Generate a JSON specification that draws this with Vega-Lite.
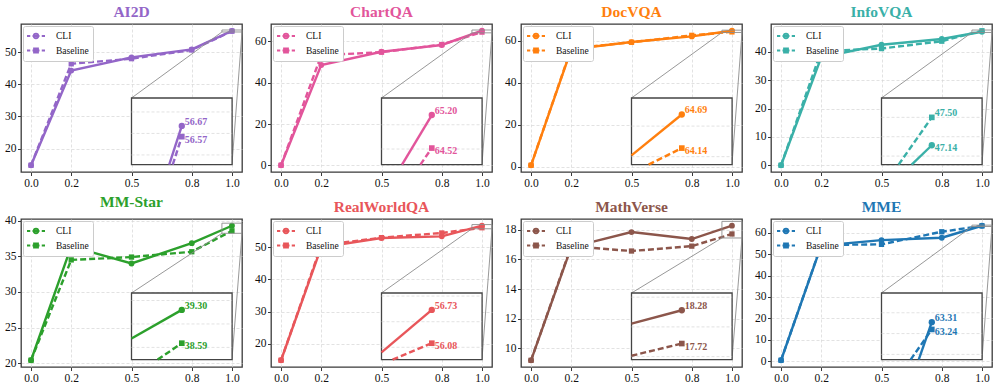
{
"$schema": "https://vega.github.io/schema/vega-lite/v6.json",
"background": "white",
"padding": {"left": 3, "top": 3, "right": 2, "bottom": 2},
"columns": 4,
"spacing": {"row": 47, "column": 29},
"bounds": "flush",
"resolve": {"scale": {"shape": "independent"}, "legend": {"shape": "independent"}},
"config": {
  "font": "Liberation Serif",
  "view": {"stroke": "#3a3a3a", "strokeWidth": 1.3},
  "axis": {"domain": false, "grid": true, "gridColor": "#d6d6d6", "gridDash": [3, 2], "gridWidth": 0.7, "ticks": true, "tickColor": "#3a3a3a", "tickSize": 3.5, "labelFont": "Liberation Serif", "labelFontSize": 11.5, "labelColor": "#111111", "labelPadding": 1.5},
  "legend": {"labelFont": "Liberation Serif", "title": null, "orient": "top-left", "offset": 2, "padding": 4, "strokeColor": "#cccccc", "fillColor": "#ffffff", "cornerRadius": 2, "symbolSize": 100, "symbolStrokeWidth": 1.8, "symbolOpacity": 1, "symbolOffset": 3, "labelFontSize": 9.5, "labelColor": "#111111", "rowPadding": 2.5, "labelOffset": 14},
  "title": {"font": "Liberation Serif", "fontSize": 15.5, "fontWeight": "bold", "offset": 4, "anchor": "middle"}
},
"concat": [
{
 "title": {"text": "AI2D", "color": "#9366c8"},
 "width": 221, "height": 148,
 "resolve": {"scale": {"x": "independent", "y": "independent"}},
 "layer": [
  {
   "data": {"values": [
    {"series": "CLI", "x": 0, "v": 14.8}, {"series": "CLI", "x": 0.2, "v": 44.3}, {"series": "CLI", "x": 0.5, "v": 48.4}, {"series": "CLI", "x": 0.8, "v": 50.9}, {"series": "CLI", "x": 1, "v": 56.67},
    {"series": "Baseline", "x": 0, "v": 14.8}, {"series": "Baseline", "x": 0.2, "v": 46.4}, {"series": "Baseline", "x": 0.5, "v": 48.0}, {"series": "Baseline", "x": 0.8, "v": 50.7}, {"series": "Baseline", "x": 1, "v": 56.57}
   ]},
   "layer": [
    {"transform": [{"filter": "datum.series == 'CLI'"}], "mark": {"type": "line", "color": "#9366c8", "strokeWidth": 2.4}, "encoding": {"x": {"field": "x", "type": "quantitative", "title": null, "scale": {"domain": [-0.05, 1.05], "zero": false, "nice": false}, "axis": {"values": [0, 0.2, 0.5, 0.8, 1], "format": ".1f", "labelFlush": false}}, "y": {"field": "v", "type": "quantitative", "title": null, "scale": {"domain": [12.7, 58.8], "zero": false, "nice": false}, "axis": {"values": [20, 30, 40, 50]}}}},
    {"transform": [{"filter": "datum.series == 'Baseline'"}], "mark": {"type": "line", "color": "#9366c8", "strokeWidth": 2.4, "strokeDash": [6, 3]}, "encoding": {"x": {"field": "x", "type": "quantitative", "title": null, "scale": {"domain": [-0.05, 1.05], "zero": false, "nice": false}, "axis": {"values": [0, 0.2, 0.5, 0.8, 1], "format": ".1f", "labelFlush": false}}, "y": {"field": "v", "type": "quantitative", "title": null, "scale": {"domain": [12.7, 58.8], "zero": false, "nice": false}, "axis": {"values": [20, 30, 40, 50]}}}},
    {"transform": [{"filter": "datum.series == 'CLI'"}], "mark": {"type": "point", "shape": "circle", "filled": true, "size": 34, "color": "#9366c8", "opacity": 1}, "encoding": {"x": {"field": "x", "type": "quantitative", "title": null, "scale": {"domain": [-0.05, 1.05], "zero": false, "nice": false}, "axis": {"values": [0, 0.2, 0.5, 0.8, 1], "format": ".1f", "labelFlush": false}}, "y": {"field": "v", "type": "quantitative", "title": null, "scale": {"domain": [12.7, 58.8], "zero": false, "nice": false}, "axis": {"values": [20, 30, 40, 50]}}}},
    {"transform": [{"filter": "datum.series == 'Baseline'"}], "mark": {"type": "point", "shape": "square", "filled": true, "size": 28, "color": "#9366c8", "opacity": 1}, "encoding": {"x": {"field": "x", "type": "quantitative", "title": null, "scale": {"domain": [-0.05, 1.05], "zero": false, "nice": false}, "axis": {"values": [0, 0.2, 0.5, 0.8, 1], "format": ".1f", "labelFlush": false}}, "y": {"field": "v", "type": "quantitative", "title": null, "scale": {"domain": [12.7, 58.8], "zero": false, "nice": false}, "axis": {"values": [20, 30, 40, 50]}}}},
    {"mark": {"type": "point", "filled": false, "opacity": 0, "color": "#9366c8"}, "encoding": {"x": {"field": "x", "type": "quantitative", "title": null, "scale": {"domain": [-0.05, 1.05], "zero": false, "nice": false}, "axis": {"values": [0, 0.2, 0.5, 0.8, 1], "format": ".1f", "labelFlush": false}}, "y": {"field": "v", "type": "quantitative", "title": null, "scale": {"domain": [12.7, 58.8], "zero": false, "nice": false}, "axis": {"values": [20, 30, 40, 50]}}, "shape": {"field": "series", "type": "nominal", "scale": {"domain": ["CLI", "Baseline"], "range": ["M-1.8,0H-1.15M-0.7,0H0.7M1.15,0H1.8M-0.45,0A0.45,0.45,0,1,1,0.45,0A0.45,0.45,0,1,1,-0.45,0Z", "M-1.8,0H-1.15M-0.7,0H0.7M1.15,0H1.8M-0.4,-0.4H0.4V0.4H-0.4Z"]}, "legend": {"symbolStrokeColor": "#9366c8", "symbolFillColor": "#9366c8", "encode": {"symbols": {"fill": {"value": "#9366c8"}, "stroke": {"value": "#9366c8"}, "strokeWidth": {"value": 1.8}, "opacity": {"value": 1}}}}}}},
    {"data": {"values": [{}]}, "mark": {"type": "rect", "filled": false, "color": "#8c8c8c", "strokeWidth": 0.9}, "encoding": {"x": {"datum": 0.95, "type": "quantitative", "title": null, "scale": {"domain": [-0.05, 1.05], "zero": false, "nice": false}, "axis": {"values": [0, 0.2, 0.5, 0.8, 1], "format": ".1f", "labelFlush": false}}, "x2": {"datum": 1.05}, "y": {"datum": 56.31, "type": "quantitative", "title": null, "scale": {"domain": [12.7, 58.8], "zero": false, "nice": false}, "axis": {"values": [20, 30, 40, 50]}}, "y2": {"datum": 56.93}}},
    {"data": {"values": [{}]}, "mark": {"type": "rule", "color": "#8c8c8c", "strokeWidth": 0.9}, "encoding": {"x": {"datum": 0.95, "type": "quantitative", "title": null, "scale": {"domain": [-0.05, 1.05], "zero": false, "nice": false}, "axis": {"values": [0, 0.2, 0.5, 0.8, 1], "format": ".1f", "labelFlush": false}}, "x2": {"datum": 0.5}, "y": {"datum": 56.31, "type": "quantitative", "title": null, "scale": {"domain": [12.7, 58.8], "zero": false, "nice": false}, "axis": {"values": [20, 30, 40, 50]}}, "y2": {"datum": 35.75}}},
    {"data": {"values": [{}]}, "mark": {"type": "rule", "color": "#8c8c8c", "strokeWidth": 0.9}, "encoding": {"x": {"datum": 1.05, "type": "quantitative", "title": null, "scale": {"domain": [-0.05, 1.05], "zero": false, "nice": false}, "axis": {"values": [0, 0.2, 0.5, 0.8, 1], "format": ".1f", "labelFlush": false}}, "x2": {"datum": 1.0}, "y": {"datum": 56.31, "type": "quantitative", "title": null, "scale": {"domain": [12.7, 58.8], "zero": false, "nice": false}, "axis": {"values": [20, 30, 40, 50]}}, "y2": {"datum": 15.0}}}
   ]
  },
  {
   "data": {"values": [
    {"series": "CLI", "x": 0.9875, "v": 56.31}, {"series": "CLI", "x": 1, "v": 56.67},
    {"series": "Baseline", "x": 0.991, "v": 56.31}, {"series": "Baseline", "x": 1, "v": 56.57}
   ]},
   "layer": [
    {"data": {"values": [{}]}, "mark": {"type": "rect", "fill": "#ffffff", "stroke": "#444444", "strokeWidth": 1.3}, "encoding": {"x": {"datum": 0.95, "type": "quantitative", "scale": {"domain": [0.95, 1.05], "range": [110.5, 211.1], "zero": false, "nice": false}, "axis": null}, "x2": {"datum": 1.05}, "y": {"datum": 56.31, "type": "quantitative", "scale": {"domain": [56.31, 56.93], "range": [140.6, 74], "zero": false, "nice": false}, "axis": null}, "y2": {"datum": 56.93}}},
    {"data": {"values": [{}]}, "mark": {"type": "rule", "color": "#d6d6d6", "strokeWidth": 0.7, "strokeDash": [3, 2]}, "encoding": {"x": {"datum": 0.95, "type": "quantitative", "scale": {"domain": [0.95, 1.05], "range": [110.5, 211.1], "zero": false, "nice": false}, "axis": null}, "x2": {"datum": 1.05}, "y": {"datum": 56.4, "type": "quantitative", "scale": {"domain": [56.31, 56.93], "range": [140.6, 74], "zero": false, "nice": false}, "axis": null}}},
    {"data": {"values": [{}]}, "mark": {"type": "rule", "color": "#d6d6d6", "strokeWidth": 0.7, "strokeDash": [3, 2]}, "encoding": {"x": {"datum": 0.95, "type": "quantitative", "scale": {"domain": [0.95, 1.05], "range": [110.5, 211.1], "zero": false, "nice": false}, "axis": null}, "x2": {"datum": 1.05}, "y": {"datum": 56.6, "type": "quantitative", "scale": {"domain": [56.31, 56.93], "range": [140.6, 74], "zero": false, "nice": false}, "axis": null}}},
    {"data": {"values": [{}]}, "mark": {"type": "rule", "color": "#d6d6d6", "strokeWidth": 0.7, "strokeDash": [3, 2]}, "encoding": {"x": {"datum": 0.95, "type": "quantitative", "scale": {"domain": [0.95, 1.05], "range": [110.5, 211.1], "zero": false, "nice": false}, "axis": null}, "x2": {"datum": 1.05}, "y": {"datum": 56.8, "type": "quantitative", "scale": {"domain": [56.31, 56.93], "range": [140.6, 74], "zero": false, "nice": false}, "axis": null}}},
    {"transform": [{"filter": "datum.series == 'CLI'"}], "mark": {"type": "line", "color": "#9366c8", "strokeWidth": 2.4}, "encoding": {"x": {"field": "x", "type": "quantitative", "scale": {"domain": [0.95, 1.05], "range": [110.5, 211.1], "zero": false, "nice": false}, "axis": null}, "y": {"field": "v", "type": "quantitative", "scale": {"domain": [56.31, 56.93], "range": [140.6, 74], "zero": false, "nice": false}, "axis": null}}},
    {"transform": [{"filter": "datum.series == 'Baseline'"}], "mark": {"type": "line", "color": "#9366c8", "strokeWidth": 2.4, "strokeDash": [6, 3]}, "encoding": {"x": {"field": "x", "type": "quantitative", "scale": {"domain": [0.95, 1.05], "range": [110.5, 211.1], "zero": false, "nice": false}, "axis": null}, "y": {"field": "v", "type": "quantitative", "scale": {"domain": [56.31, 56.93], "range": [140.6, 74], "zero": false, "nice": false}, "axis": null}}},
    {"transform": [{"filter": "datum.x == 1 && datum.series == 'CLI'"}], "mark": {"type": "point", "shape": "circle", "filled": true, "size": 40, "color": "#9366c8", "opacity": 1}, "encoding": {"x": {"field": "x", "type": "quantitative", "scale": {"domain": [0.95, 1.05], "range": [110.5, 211.1], "zero": false, "nice": false}, "axis": null}, "y": {"field": "v", "type": "quantitative", "scale": {"domain": [56.31, 56.93], "range": [140.6, 74], "zero": false, "nice": false}, "axis": null}}},
    {"transform": [{"filter": "datum.x == 1 && datum.series == 'Baseline'"}], "mark": {"type": "point", "shape": "square", "filled": true, "size": 32, "color": "#9366c8", "opacity": 1}, "encoding": {"x": {"field": "x", "type": "quantitative", "scale": {"domain": [0.95, 1.05], "range": [110.5, 211.1], "zero": false, "nice": false}, "axis": null}, "y": {"field": "v", "type": "quantitative", "scale": {"domain": [56.31, 56.93], "range": [140.6, 74], "zero": false, "nice": false}, "axis": null}}},
    {"transform": [{"filter": "datum.x == 1 && datum.series == 'CLI'"}], "mark": {"type": "text", "align": "left", "baseline": "middle", "dx": 3, "dy": -4, "font": "Liberation Serif", "fontWeight": "bold", "fontSize": 10, "color": "#9366c8"}, "encoding": {"x": {"field": "x", "type": "quantitative", "scale": {"domain": [0.95, 1.05], "range": [110.5, 211.1], "zero": false, "nice": false}, "axis": null}, "y": {"field": "v", "type": "quantitative", "scale": {"domain": [56.31, 56.93], "range": [140.6, 74], "zero": false, "nice": false}, "axis": null}, "text": {"field": "v", "type": "quantitative", "format": ".2f"}}},
    {"transform": [{"filter": "datum.x == 1 && datum.series == 'Baseline'"}], "mark": {"type": "text", "align": "left", "baseline": "middle", "dx": 3, "dy": 3, "font": "Liberation Serif", "fontWeight": "bold", "fontSize": 10, "color": "#9366c8"}, "encoding": {"x": {"field": "x", "type": "quantitative", "scale": {"domain": [0.95, 1.05], "range": [110.5, 211.1], "zero": false, "nice": false}, "axis": null}, "y": {"field": "v", "type": "quantitative", "scale": {"domain": [56.31, 56.93], "range": [140.6, 74], "zero": false, "nice": false}, "axis": null}, "text": {"field": "v", "type": "quantitative", "format": ".2f"}}}
   ]
  }
 ]
},
{
 "title": {"text": "ChartQA", "color": "#e2559b"},
 "width": 221, "height": 148,
 "resolve": {"scale": {"x": "independent", "y": "independent"}},
 "layer": [
  {
   "data": {"values": [
    {"series": "CLI", "x": 0, "v": 0}, {"series": "CLI", "x": 0.2, "v": 48.6}, {"series": "CLI", "x": 0.5, "v": 55.0}, {"series": "CLI", "x": 0.8, "v": 58.3}, {"series": "CLI", "x": 1, "v": 65.20},
    {"series": "Baseline", "x": 0, "v": 0}, {"series": "Baseline", "x": 0.2, "v": 53.3}, {"series": "Baseline", "x": 0.5, "v": 54.8}, {"series": "Baseline", "x": 0.8, "v": 58.5}, {"series": "Baseline", "x": 1, "v": 64.52}
   ]},
   "layer": [
    {"transform": [{"filter": "datum.series == 'CLI'"}], "mark": {"type": "line", "color": "#e2559b", "strokeWidth": 2.4}, "encoding": {"x": {"field": "x", "type": "quantitative", "title": null, "scale": {"domain": [-0.05, 1.05], "zero": false, "nice": false}, "axis": {"values": [0, 0.2, 0.5, 0.8, 1], "format": ".1f", "labelFlush": false}}, "y": {"field": "v", "type": "quantitative", "title": null, "scale": {"domain": [-3.26, 68.46], "zero": false, "nice": false}, "axis": {"values": [0, 20, 40, 60]}}}},
    {"transform": [{"filter": "datum.series == 'Baseline'"}], "mark": {"type": "line", "color": "#e2559b", "strokeWidth": 2.4, "strokeDash": [6, 3]}, "encoding": {"x": {"field": "x", "type": "quantitative", "title": null, "scale": {"domain": [-0.05, 1.05], "zero": false, "nice": false}, "axis": {"values": [0, 0.2, 0.5, 0.8, 1], "format": ".1f", "labelFlush": false}}, "y": {"field": "v", "type": "quantitative", "title": null, "scale": {"domain": [-3.26, 68.46], "zero": false, "nice": false}, "axis": {"values": [0, 20, 40, 60]}}}},
    {"transform": [{"filter": "datum.series == 'CLI'"}], "mark": {"type": "point", "shape": "circle", "filled": true, "size": 34, "color": "#e2559b", "opacity": 1}, "encoding": {"x": {"field": "x", "type": "quantitative", "title": null, "scale": {"domain": [-0.05, 1.05], "zero": false, "nice": false}, "axis": {"values": [0, 0.2, 0.5, 0.8, 1], "format": ".1f", "labelFlush": false}}, "y": {"field": "v", "type": "quantitative", "title": null, "scale": {"domain": [-3.26, 68.46], "zero": false, "nice": false}, "axis": {"values": [0, 20, 40, 60]}}}},
    {"transform": [{"filter": "datum.series == 'Baseline'"}], "mark": {"type": "point", "shape": "square", "filled": true, "size": 28, "color": "#e2559b", "opacity": 1}, "encoding": {"x": {"field": "x", "type": "quantitative", "title": null, "scale": {"domain": [-0.05, 1.05], "zero": false, "nice": false}, "axis": {"values": [0, 0.2, 0.5, 0.8, 1], "format": ".1f", "labelFlush": false}}, "y": {"field": "v", "type": "quantitative", "title": null, "scale": {"domain": [-3.26, 68.46], "zero": false, "nice": false}, "axis": {"values": [0, 20, 40, 60]}}}},
    {"mark": {"type": "point", "filled": false, "opacity": 0, "color": "#e2559b"}, "encoding": {"x": {"field": "x", "type": "quantitative", "title": null, "scale": {"domain": [-0.05, 1.05], "zero": false, "nice": false}, "axis": {"values": [0, 0.2, 0.5, 0.8, 1], "format": ".1f", "labelFlush": false}}, "y": {"field": "v", "type": "quantitative", "title": null, "scale": {"domain": [-3.26, 68.46], "zero": false, "nice": false}, "axis": {"values": [0, 20, 40, 60]}}, "shape": {"field": "series", "type": "nominal", "scale": {"domain": ["CLI", "Baseline"], "range": ["M-1.8,0H-1.15M-0.7,0H0.7M1.15,0H1.8M-0.45,0A0.45,0.45,0,1,1,0.45,0A0.45,0.45,0,1,1,-0.45,0Z", "M-1.8,0H-1.15M-0.7,0H0.7M1.15,0H1.8M-0.4,-0.4H0.4V0.4H-0.4Z"]}, "legend": {"symbolStrokeColor": "#e2559b", "symbolFillColor": "#e2559b", "encode": {"symbols": {"fill": {"value": "#e2559b"}, "stroke": {"value": "#e2559b"}, "strokeWidth": {"value": 1.8}, "opacity": {"value": 1}}}}}}},
    {"data": {"values": [{}]}, "mark": {"type": "rect", "filled": false, "color": "#8c8c8c", "strokeWidth": 0.9}, "encoding": {"x": {"datum": 0.95, "type": "quantitative", "title": null, "scale": {"domain": [-0.05, 1.05], "zero": false, "nice": false}, "axis": {"values": [0, 0.2, 0.5, 0.8, 1], "format": ".1f", "labelFlush": false}}, "x2": {"datum": 1.05}, "y": {"datum": 64.18, "type": "quantitative", "title": null, "scale": {"domain": [-3.26, 68.46], "zero": false, "nice": false}, "axis": {"values": [0, 20, 40, 60]}}, "y2": {"datum": 65.55}}},
    {"data": {"values": [{}]}, "mark": {"type": "rule", "color": "#8c8c8c", "strokeWidth": 0.9}, "encoding": {"x": {"datum": 0.95, "type": "quantitative", "title": null, "scale": {"domain": [-0.05, 1.05], "zero": false, "nice": false}, "axis": {"values": [0, 0.2, 0.5, 0.8, 1], "format": ".1f", "labelFlush": false}}, "x2": {"datum": 0.5}, "y": {"datum": 64.18, "type": "quantitative", "title": null, "scale": {"domain": [-3.26, 68.46], "zero": false, "nice": false}, "axis": {"values": [0, 20, 40, 60]}}, "y2": {"datum": 32.6}}},
    {"data": {"values": [{}]}, "mark": {"type": "rule", "color": "#8c8c8c", "strokeWidth": 0.9}, "encoding": {"x": {"datum": 1.05, "type": "quantitative", "title": null, "scale": {"domain": [-0.05, 1.05], "zero": false, "nice": false}, "axis": {"values": [0, 0.2, 0.5, 0.8, 1], "format": ".1f", "labelFlush": false}}, "x2": {"datum": 1.0}, "y": {"datum": 64.18, "type": "quantitative", "title": null, "scale": {"domain": [-3.26, 68.46], "zero": false, "nice": false}, "axis": {"values": [0, 20, 40, 60]}}, "y2": {"datum": 0.33}}}
   ]
  },
  {
   "data": {"values": [
    {"series": "CLI", "x": 0.9704, "v": 64.18}, {"series": "CLI", "x": 1, "v": 65.20},
    {"series": "Baseline", "x": 0.9887, "v": 64.18}, {"series": "Baseline", "x": 1, "v": 64.52}
   ]},
   "layer": [
    {"data": {"values": [{}]}, "mark": {"type": "rect", "fill": "#ffffff", "stroke": "#444444", "strokeWidth": 1.3}, "encoding": {"x": {"datum": 0.95, "type": "quantitative", "scale": {"domain": [0.95, 1.05], "range": [110.5, 211.1], "zero": false, "nice": false}, "axis": null}, "x2": {"datum": 1.05}, "y": {"datum": 64.18, "type": "quantitative", "scale": {"domain": [64.18, 65.55], "range": [140.6, 74], "zero": false, "nice": false}, "axis": null}, "y2": {"datum": 65.55}}},
    {"data": {"values": [{}]}, "mark": {"type": "rule", "color": "#d6d6d6", "strokeWidth": 0.7, "strokeDash": [3, 2]}, "encoding": {"x": {"datum": 0.95, "type": "quantitative", "scale": {"domain": [0.95, 1.05], "range": [110.5, 211.1], "zero": false, "nice": false}, "axis": null}, "x2": {"datum": 1.05}, "y": {"datum": 64.5, "type": "quantitative", "scale": {"domain": [64.18, 65.55], "range": [140.6, 74], "zero": false, "nice": false}, "axis": null}}},
    {"data": {"values": [{}]}, "mark": {"type": "rule", "color": "#d6d6d6", "strokeWidth": 0.7, "strokeDash": [3, 2]}, "encoding": {"x": {"datum": 0.95, "type": "quantitative", "scale": {"domain": [0.95, 1.05], "range": [110.5, 211.1], "zero": false, "nice": false}, "axis": null}, "x2": {"datum": 1.05}, "y": {"datum": 65.0, "type": "quantitative", "scale": {"domain": [64.18, 65.55], "range": [140.6, 74], "zero": false, "nice": false}, "axis": null}}},
    {"transform": [{"filter": "datum.series == 'CLI'"}], "mark": {"type": "line", "color": "#e2559b", "strokeWidth": 2.4}, "encoding": {"x": {"field": "x", "type": "quantitative", "scale": {"domain": [0.95, 1.05], "range": [110.5, 211.1], "zero": false, "nice": false}, "axis": null}, "y": {"field": "v", "type": "quantitative", "scale": {"domain": [64.18, 65.55], "range": [140.6, 74], "zero": false, "nice": false}, "axis": null}}},
    {"transform": [{"filter": "datum.series == 'Baseline'"}], "mark": {"type": "line", "color": "#e2559b", "strokeWidth": 2.4, "strokeDash": [6, 3]}, "encoding": {"x": {"field": "x", "type": "quantitative", "scale": {"domain": [0.95, 1.05], "range": [110.5, 211.1], "zero": false, "nice": false}, "axis": null}, "y": {"field": "v", "type": "quantitative", "scale": {"domain": [64.18, 65.55], "range": [140.6, 74], "zero": false, "nice": false}, "axis": null}}},
    {"transform": [{"filter": "datum.x == 1 && datum.series == 'CLI'"}], "mark": {"type": "point", "shape": "circle", "filled": true, "size": 40, "color": "#e2559b", "opacity": 1}, "encoding": {"x": {"field": "x", "type": "quantitative", "scale": {"domain": [0.95, 1.05], "range": [110.5, 211.1], "zero": false, "nice": false}, "axis": null}, "y": {"field": "v", "type": "quantitative", "scale": {"domain": [64.18, 65.55], "range": [140.6, 74], "zero": false, "nice": false}, "axis": null}}},
    {"transform": [{"filter": "datum.x == 1 && datum.series == 'Baseline'"}], "mark": {"type": "point", "shape": "square", "filled": true, "size": 32, "color": "#e2559b", "opacity": 1}, "encoding": {"x": {"field": "x", "type": "quantitative", "scale": {"domain": [0.95, 1.05], "range": [110.5, 211.1], "zero": false, "nice": false}, "axis": null}, "y": {"field": "v", "type": "quantitative", "scale": {"domain": [64.18, 65.55], "range": [140.6, 74], "zero": false, "nice": false}, "axis": null}}},
    {"transform": [{"filter": "datum.x == 1 && datum.series == 'CLI'"}], "mark": {"type": "text", "align": "left", "baseline": "middle", "dx": 3, "dy": -4, "font": "Liberation Serif", "fontWeight": "bold", "fontSize": 10, "color": "#e2559b"}, "encoding": {"x": {"field": "x", "type": "quantitative", "scale": {"domain": [0.95, 1.05], "range": [110.5, 211.1], "zero": false, "nice": false}, "axis": null}, "y": {"field": "v", "type": "quantitative", "scale": {"domain": [64.18, 65.55], "range": [140.6, 74], "zero": false, "nice": false}, "axis": null}, "text": {"field": "v", "type": "quantitative", "format": ".2f"}}},
    {"transform": [{"filter": "datum.x == 1 && datum.series == 'Baseline'"}], "mark": {"type": "text", "align": "left", "baseline": "middle", "dx": 3, "dy": 3, "font": "Liberation Serif", "fontWeight": "bold", "fontSize": 10, "color": "#e2559b"}, "encoding": {"x": {"field": "x", "type": "quantitative", "scale": {"domain": [0.95, 1.05], "range": [110.5, 211.1], "zero": false, "nice": false}, "axis": null}, "y": {"field": "v", "type": "quantitative", "scale": {"domain": [64.18, 65.55], "range": [140.6, 74], "zero": false, "nice": false}, "axis": null}, "text": {"field": "v", "type": "quantitative", "format": ".2f"}}}
   ]
  }
 ]
},
{
 "title": {"text": "DocVQA", "color": "#ff7f0e"},
 "width": 221, "height": 148,
 "resolve": {"scale": {"x": "independent", "y": "independent"}},
 "layer": [
  {
   "data": {"values": [
    {"series": "CLI", "x": 0, "v": 0.6}, {"series": "CLI", "x": 0.2, "v": 55.8}, {"series": "CLI", "x": 0.5, "v": 59.3}, {"series": "CLI", "x": 0.8, "v": 62.0}, {"series": "CLI", "x": 1, "v": 64.69},
    {"series": "Baseline", "x": 0, "v": 0.6}, {"series": "Baseline", "x": 0.2, "v": 56.2}, {"series": "Baseline", "x": 0.5, "v": 59.2}, {"series": "Baseline", "x": 0.8, "v": 62.5}, {"series": "Baseline", "x": 1, "v": 64.14}
   ]},
   "layer": [
    {"transform": [{"filter": "datum.series == 'CLI'"}], "mark": {"type": "line", "color": "#ff7f0e", "strokeWidth": 2.4}, "encoding": {"x": {"field": "x", "type": "quantitative", "title": null, "scale": {"domain": [-0.05, 1.05], "zero": false, "nice": false}, "axis": {"values": [0, 0.2, 0.5, 0.8, 1], "format": ".1f", "labelFlush": false}}, "y": {"field": "v", "type": "quantitative", "title": null, "scale": {"domain": [-2.6, 67.9], "zero": false, "nice": false}, "axis": {"values": [0, 20, 40, 60]}}}},
    {"transform": [{"filter": "datum.series == 'Baseline'"}], "mark": {"type": "line", "color": "#ff7f0e", "strokeWidth": 2.4, "strokeDash": [6, 3]}, "encoding": {"x": {"field": "x", "type": "quantitative", "title": null, "scale": {"domain": [-0.05, 1.05], "zero": false, "nice": false}, "axis": {"values": [0, 0.2, 0.5, 0.8, 1], "format": ".1f", "labelFlush": false}}, "y": {"field": "v", "type": "quantitative", "title": null, "scale": {"domain": [-2.6, 67.9], "zero": false, "nice": false}, "axis": {"values": [0, 20, 40, 60]}}}},
    {"transform": [{"filter": "datum.series == 'CLI'"}], "mark": {"type": "point", "shape": "circle", "filled": true, "size": 34, "color": "#ff7f0e", "opacity": 1}, "encoding": {"x": {"field": "x", "type": "quantitative", "title": null, "scale": {"domain": [-0.05, 1.05], "zero": false, "nice": false}, "axis": {"values": [0, 0.2, 0.5, 0.8, 1], "format": ".1f", "labelFlush": false}}, "y": {"field": "v", "type": "quantitative", "title": null, "scale": {"domain": [-2.6, 67.9], "zero": false, "nice": false}, "axis": {"values": [0, 20, 40, 60]}}}},
    {"transform": [{"filter": "datum.series == 'Baseline'"}], "mark": {"type": "point", "shape": "square", "filled": true, "size": 28, "color": "#ff7f0e", "opacity": 1}, "encoding": {"x": {"field": "x", "type": "quantitative", "title": null, "scale": {"domain": [-0.05, 1.05], "zero": false, "nice": false}, "axis": {"values": [0, 0.2, 0.5, 0.8, 1], "format": ".1f", "labelFlush": false}}, "y": {"field": "v", "type": "quantitative", "title": null, "scale": {"domain": [-2.6, 67.9], "zero": false, "nice": false}, "axis": {"values": [0, 20, 40, 60]}}}},
    {"mark": {"type": "point", "filled": false, "opacity": 0, "color": "#ff7f0e"}, "encoding": {"x": {"field": "x", "type": "quantitative", "title": null, "scale": {"domain": [-0.05, 1.05], "zero": false, "nice": false}, "axis": {"values": [0, 0.2, 0.5, 0.8, 1], "format": ".1f", "labelFlush": false}}, "y": {"field": "v", "type": "quantitative", "title": null, "scale": {"domain": [-2.6, 67.9], "zero": false, "nice": false}, "axis": {"values": [0, 20, 40, 60]}}, "shape": {"field": "series", "type": "nominal", "scale": {"domain": ["CLI", "Baseline"], "range": ["M-1.8,0H-1.15M-0.7,0H0.7M1.15,0H1.8M-0.45,0A0.45,0.45,0,1,1,0.45,0A0.45,0.45,0,1,1,-0.45,0Z", "M-1.8,0H-1.15M-0.7,0H0.7M1.15,0H1.8M-0.4,-0.4H0.4V0.4H-0.4Z"]}, "legend": {"symbolStrokeColor": "#ff7f0e", "symbolFillColor": "#ff7f0e", "encode": {"symbols": {"fill": {"value": "#ff7f0e"}, "stroke": {"value": "#ff7f0e"}, "strokeWidth": {"value": 1.8}, "opacity": {"value": 1}}}}}}},
    {"data": {"values": [{}]}, "mark": {"type": "rect", "filled": false, "color": "#8c8c8c", "strokeWidth": 0.9}, "encoding": {"x": {"datum": 0.95, "type": "quantitative", "title": null, "scale": {"domain": [-0.05, 1.05], "zero": false, "nice": false}, "axis": {"values": [0, 0.2, 0.5, 0.8, 1], "format": ".1f", "labelFlush": false}}, "x2": {"datum": 1.05}, "y": {"datum": 63.87, "type": "quantitative", "title": null, "scale": {"domain": [-2.6, 67.9], "zero": false, "nice": false}, "axis": {"values": [0, 20, 40, 60]}}, "y2": {"datum": 64.96}}},
    {"data": {"values": [{}]}, "mark": {"type": "rule", "color": "#8c8c8c", "strokeWidth": 0.9}, "encoding": {"x": {"datum": 0.95, "type": "quantitative", "title": null, "scale": {"domain": [-0.05, 1.05], "zero": false, "nice": false}, "axis": {"values": [0, 0.2, 0.5, 0.8, 1], "format": ".1f", "labelFlush": false}}, "x2": {"datum": 0.5}, "y": {"datum": 63.87, "type": "quantitative", "title": null, "scale": {"domain": [-2.6, 67.9], "zero": false, "nice": false}, "axis": {"values": [0, 20, 40, 60]}}, "y2": {"datum": 32.65}}},
    {"data": {"values": [{}]}, "mark": {"type": "rule", "color": "#8c8c8c", "strokeWidth": 0.9}, "encoding": {"x": {"datum": 1.05, "type": "quantitative", "title": null, "scale": {"domain": [-0.05, 1.05], "zero": false, "nice": false}, "axis": {"values": [0, 0.2, 0.5, 0.8, 1], "format": ".1f", "labelFlush": false}}, "x2": {"datum": 1.0}, "y": {"datum": 63.87, "type": "quantitative", "title": null, "scale": {"domain": [-2.6, 67.9], "zero": false, "nice": false}, "axis": {"values": [0, 20, 40, 60]}}, "y2": {"datum": 0.93}}}
   ]
  },
  {
   "data": {"values": [
    {"series": "CLI", "x": 0.95, "v": 64.02}, {"series": "CLI", "x": 1, "v": 64.69},
    {"series": "Baseline", "x": 0.967, "v": 63.87}, {"series": "Baseline", "x": 1, "v": 64.14}
   ]},
   "layer": [
    {"data": {"values": [{}]}, "mark": {"type": "rect", "fill": "#ffffff", "stroke": "#444444", "strokeWidth": 1.3}, "encoding": {"x": {"datum": 0.95, "type": "quantitative", "scale": {"domain": [0.95, 1.05], "range": [110.5, 211.1], "zero": false, "nice": false}, "axis": null}, "x2": {"datum": 1.05}, "y": {"datum": 63.87, "type": "quantitative", "scale": {"domain": [63.87, 64.96], "range": [140.6, 74], "zero": false, "nice": false}, "axis": null}, "y2": {"datum": 64.96}}},
    {"data": {"values": [{}]}, "mark": {"type": "rule", "color": "#d6d6d6", "strokeWidth": 0.7, "strokeDash": [3, 2]}, "encoding": {"x": {"datum": 0.95, "type": "quantitative", "scale": {"domain": [0.95, 1.05], "range": [110.5, 211.1], "zero": false, "nice": false}, "axis": null}, "x2": {"datum": 1.05}, "y": {"datum": 64.0, "type": "quantitative", "scale": {"domain": [63.87, 64.96], "range": [140.6, 74], "zero": false, "nice": false}, "axis": null}}},
    {"data": {"values": [{}]}, "mark": {"type": "rule", "color": "#d6d6d6", "strokeWidth": 0.7, "strokeDash": [3, 2]}, "encoding": {"x": {"datum": 0.95, "type": "quantitative", "scale": {"domain": [0.95, 1.05], "range": [110.5, 211.1], "zero": false, "nice": false}, "axis": null}, "x2": {"datum": 1.05}, "y": {"datum": 64.5, "type": "quantitative", "scale": {"domain": [63.87, 64.96], "range": [140.6, 74], "zero": false, "nice": false}, "axis": null}}},
    {"transform": [{"filter": "datum.series == 'CLI'"}], "mark": {"type": "line", "color": "#ff7f0e", "strokeWidth": 2.4}, "encoding": {"x": {"field": "x", "type": "quantitative", "scale": {"domain": [0.95, 1.05], "range": [110.5, 211.1], "zero": false, "nice": false}, "axis": null}, "y": {"field": "v", "type": "quantitative", "scale": {"domain": [63.87, 64.96], "range": [140.6, 74], "zero": false, "nice": false}, "axis": null}}},
    {"transform": [{"filter": "datum.series == 'Baseline'"}], "mark": {"type": "line", "color": "#ff7f0e", "strokeWidth": 2.4, "strokeDash": [6, 3]}, "encoding": {"x": {"field": "x", "type": "quantitative", "scale": {"domain": [0.95, 1.05], "range": [110.5, 211.1], "zero": false, "nice": false}, "axis": null}, "y": {"field": "v", "type": "quantitative", "scale": {"domain": [63.87, 64.96], "range": [140.6, 74], "zero": false, "nice": false}, "axis": null}}},
    {"transform": [{"filter": "datum.x == 1 && datum.series == 'CLI'"}], "mark": {"type": "point", "shape": "circle", "filled": true, "size": 40, "color": "#ff7f0e", "opacity": 1}, "encoding": {"x": {"field": "x", "type": "quantitative", "scale": {"domain": [0.95, 1.05], "range": [110.5, 211.1], "zero": false, "nice": false}, "axis": null}, "y": {"field": "v", "type": "quantitative", "scale": {"domain": [63.87, 64.96], "range": [140.6, 74], "zero": false, "nice": false}, "axis": null}}},
    {"transform": [{"filter": "datum.x == 1 && datum.series == 'Baseline'"}], "mark": {"type": "point", "shape": "square", "filled": true, "size": 32, "color": "#ff7f0e", "opacity": 1}, "encoding": {"x": {"field": "x", "type": "quantitative", "scale": {"domain": [0.95, 1.05], "range": [110.5, 211.1], "zero": false, "nice": false}, "axis": null}, "y": {"field": "v", "type": "quantitative", "scale": {"domain": [63.87, 64.96], "range": [140.6, 74], "zero": false, "nice": false}, "axis": null}}},
    {"transform": [{"filter": "datum.x == 1 && datum.series == 'CLI'"}], "mark": {"type": "text", "align": "left", "baseline": "middle", "dx": 3, "dy": -4, "font": "Liberation Serif", "fontWeight": "bold", "fontSize": 10, "color": "#ff7f0e"}, "encoding": {"x": {"field": "x", "type": "quantitative", "scale": {"domain": [0.95, 1.05], "range": [110.5, 211.1], "zero": false, "nice": false}, "axis": null}, "y": {"field": "v", "type": "quantitative", "scale": {"domain": [63.87, 64.96], "range": [140.6, 74], "zero": false, "nice": false}, "axis": null}, "text": {"field": "v", "type": "quantitative", "format": ".2f"}}},
    {"transform": [{"filter": "datum.x == 1 && datum.series == 'Baseline'"}], "mark": {"type": "text", "align": "left", "baseline": "middle", "dx": 3, "dy": 3, "font": "Liberation Serif", "fontWeight": "bold", "fontSize": 10, "color": "#ff7f0e"}, "encoding": {"x": {"field": "x", "type": "quantitative", "scale": {"domain": [0.95, 1.05], "range": [110.5, 211.1], "zero": false, "nice": false}, "axis": null}, "y": {"field": "v", "type": "quantitative", "scale": {"domain": [63.87, 64.96], "range": [140.6, 74], "zero": false, "nice": false}, "axis": null}, "text": {"field": "v", "type": "quantitative", "format": ".2f"}}}
   ]
  }
 ]
},
{
 "title": {"text": "InfoVQA", "color": "#3ab0a8"},
 "width": 221, "height": 148,
 "resolve": {"scale": {"x": "independent", "y": "independent"}},
 "layer": [
  {
   "data": {"values": [
    {"series": "CLI", "x": 0, "v": 0}, {"series": "CLI", "x": 0.2, "v": 38.1}, {"series": "CLI", "x": 0.5, "v": 42.55}, {"series": "CLI", "x": 0.8, "v": 44.6}, {"series": "CLI", "x": 1, "v": 47.14},
    {"series": "Baseline", "x": 0, "v": 0}, {"series": "Baseline", "x": 0.2, "v": 40.3}, {"series": "Baseline", "x": 0.5, "v": 41.2}, {"series": "Baseline", "x": 0.8, "v": 43.8}, {"series": "Baseline", "x": 1, "v": 47.50}
   ]},
   "layer": [
    {"transform": [{"filter": "datum.series == 'CLI'"}], "mark": {"type": "line", "color": "#3ab0a8", "strokeWidth": 2.4}, "encoding": {"x": {"field": "x", "type": "quantitative", "title": null, "scale": {"domain": [-0.05, 1.05], "zero": false, "nice": false}, "axis": {"values": [0, 0.2, 0.5, 0.8, 1], "format": ".1f", "labelFlush": false}}, "y": {"field": "v", "type": "quantitative", "title": null, "scale": {"domain": [-2.38, 49.88], "zero": false, "nice": false}, "axis": {"values": [0, 10, 20, 30, 40]}}}},
    {"transform": [{"filter": "datum.series == 'Baseline'"}], "mark": {"type": "line", "color": "#3ab0a8", "strokeWidth": 2.4, "strokeDash": [6, 3]}, "encoding": {"x": {"field": "x", "type": "quantitative", "title": null, "scale": {"domain": [-0.05, 1.05], "zero": false, "nice": false}, "axis": {"values": [0, 0.2, 0.5, 0.8, 1], "format": ".1f", "labelFlush": false}}, "y": {"field": "v", "type": "quantitative", "title": null, "scale": {"domain": [-2.38, 49.88], "zero": false, "nice": false}, "axis": {"values": [0, 10, 20, 30, 40]}}}},
    {"transform": [{"filter": "datum.series == 'CLI'"}], "mark": {"type": "point", "shape": "circle", "filled": true, "size": 34, "color": "#3ab0a8", "opacity": 1}, "encoding": {"x": {"field": "x", "type": "quantitative", "title": null, "scale": {"domain": [-0.05, 1.05], "zero": false, "nice": false}, "axis": {"values": [0, 0.2, 0.5, 0.8, 1], "format": ".1f", "labelFlush": false}}, "y": {"field": "v", "type": "quantitative", "title": null, "scale": {"domain": [-2.38, 49.88], "zero": false, "nice": false}, "axis": {"values": [0, 10, 20, 30, 40]}}}},
    {"transform": [{"filter": "datum.series == 'Baseline'"}], "mark": {"type": "point", "shape": "square", "filled": true, "size": 28, "color": "#3ab0a8", "opacity": 1}, "encoding": {"x": {"field": "x", "type": "quantitative", "title": null, "scale": {"domain": [-0.05, 1.05], "zero": false, "nice": false}, "axis": {"values": [0, 0.2, 0.5, 0.8, 1], "format": ".1f", "labelFlush": false}}, "y": {"field": "v", "type": "quantitative", "title": null, "scale": {"domain": [-2.38, 49.88], "zero": false, "nice": false}, "axis": {"values": [0, 10, 20, 30, 40]}}}},
    {"mark": {"type": "point", "filled": false, "opacity": 0, "color": "#3ab0a8"}, "encoding": {"x": {"field": "x", "type": "quantitative", "title": null, "scale": {"domain": [-0.05, 1.05], "zero": false, "nice": false}, "axis": {"values": [0, 0.2, 0.5, 0.8, 1], "format": ".1f", "labelFlush": false}}, "y": {"field": "v", "type": "quantitative", "title": null, "scale": {"domain": [-2.38, 49.88], "zero": false, "nice": false}, "axis": {"values": [0, 10, 20, 30, 40]}}, "shape": {"field": "series", "type": "nominal", "scale": {"domain": ["CLI", "Baseline"], "range": ["M-1.8,0H-1.15M-0.7,0H0.7M1.15,0H1.8M-0.45,0A0.45,0.45,0,1,1,0.45,0A0.45,0.45,0,1,1,-0.45,0Z", "M-1.8,0H-1.15M-0.7,0H0.7M1.15,0H1.8M-0.4,-0.4H0.4V0.4H-0.4Z"]}, "legend": {"symbolStrokeColor": "#3ab0a8", "symbolFillColor": "#3ab0a8", "encode": {"symbols": {"fill": {"value": "#3ab0a8"}, "stroke": {"value": "#3ab0a8"}, "strokeWidth": {"value": 1.8}, "opacity": {"value": 1}}}}}}},
    {"data": {"values": [{}]}, "mark": {"type": "rect", "filled": false, "color": "#8c8c8c", "strokeWidth": 0.9}, "encoding": {"x": {"datum": 0.95, "type": "quantitative", "title": null, "scale": {"domain": [-0.05, 1.05], "zero": false, "nice": false}, "axis": {"values": [0, 0.2, 0.5, 0.8, 1], "format": ".1f", "labelFlush": false}}, "x2": {"datum": 1.05}, "y": {"datum": 46.89, "type": "quantitative", "title": null, "scale": {"domain": [-2.38, 49.88], "zero": false, "nice": false}, "axis": {"values": [0, 10, 20, 30, 40]}}, "y2": {"datum": 47.75}}},
    {"data": {"values": [{}]}, "mark": {"type": "rule", "color": "#8c8c8c", "strokeWidth": 0.9}, "encoding": {"x": {"datum": 0.95, "type": "quantitative", "title": null, "scale": {"domain": [-0.05, 1.05], "zero": false, "nice": false}, "axis": {"values": [0, 0.2, 0.5, 0.8, 1], "format": ".1f", "labelFlush": false}}, "x2": {"datum": 0.5}, "y": {"datum": 46.89, "type": "quantitative", "title": null, "scale": {"domain": [-2.38, 49.88], "zero": false, "nice": false}, "axis": {"values": [0, 10, 20, 30, 40]}}, "y2": {"datum": 23.75}}},
    {"data": {"values": [{}]}, "mark": {"type": "rule", "color": "#8c8c8c", "strokeWidth": 0.9}, "encoding": {"x": {"datum": 1.05, "type": "quantitative", "title": null, "scale": {"domain": [-0.05, 1.05], "zero": false, "nice": false}, "axis": {"values": [0, 0.2, 0.5, 0.8, 1], "format": ".1f", "labelFlush": false}}, "x2": {"datum": 1.0}, "y": {"datum": 46.89, "type": "quantitative", "title": null, "scale": {"domain": [-2.38, 49.88], "zero": false, "nice": false}, "axis": {"values": [0, 10, 20, 30, 40]}}, "y2": {"datum": 0.24}}}
   ]
  },
  {
   "data": {"values": [
    {"series": "CLI", "x": 0.98, "v": 46.89}, {"series": "CLI", "x": 1, "v": 47.14},
    {"series": "Baseline", "x": 0.967, "v": 46.89}, {"series": "Baseline", "x": 1, "v": 47.50}
   ]},
   "layer": [
    {"data": {"values": [{}]}, "mark": {"type": "rect", "fill": "#ffffff", "stroke": "#444444", "strokeWidth": 1.3}, "encoding": {"x": {"datum": 0.95, "type": "quantitative", "scale": {"domain": [0.95, 1.05], "range": [110.5, 211.1], "zero": false, "nice": false}, "axis": null}, "x2": {"datum": 1.05}, "y": {"datum": 46.89, "type": "quantitative", "scale": {"domain": [46.89, 47.75], "range": [140.6, 74], "zero": false, "nice": false}, "axis": null}, "y2": {"datum": 47.75}}},
    {"data": {"values": [{}]}, "mark": {"type": "rule", "color": "#d6d6d6", "strokeWidth": 0.7, "strokeDash": [3, 2]}, "encoding": {"x": {"datum": 0.95, "type": "quantitative", "scale": {"domain": [0.95, 1.05], "range": [110.5, 211.1], "zero": false, "nice": false}, "axis": null}, "x2": {"datum": 1.05}, "y": {"datum": 47.0, "type": "quantitative", "scale": {"domain": [46.89, 47.75], "range": [140.6, 74], "zero": false, "nice": false}, "axis": null}}},
    {"data": {"values": [{}]}, "mark": {"type": "rule", "color": "#d6d6d6", "strokeWidth": 0.7, "strokeDash": [3, 2]}, "encoding": {"x": {"datum": 0.95, "type": "quantitative", "scale": {"domain": [0.95, 1.05], "range": [110.5, 211.1], "zero": false, "nice": false}, "axis": null}, "x2": {"datum": 1.05}, "y": {"datum": 47.25, "type": "quantitative", "scale": {"domain": [46.89, 47.75], "range": [140.6, 74], "zero": false, "nice": false}, "axis": null}}},
    {"data": {"values": [{}]}, "mark": {"type": "rule", "color": "#d6d6d6", "strokeWidth": 0.7, "strokeDash": [3, 2]}, "encoding": {"x": {"datum": 0.95, "type": "quantitative", "scale": {"domain": [0.95, 1.05], "range": [110.5, 211.1], "zero": false, "nice": false}, "axis": null}, "x2": {"datum": 1.05}, "y": {"datum": 47.5, "type": "quantitative", "scale": {"domain": [46.89, 47.75], "range": [140.6, 74], "zero": false, "nice": false}, "axis": null}}},
    {"transform": [{"filter": "datum.series == 'CLI'"}], "mark": {"type": "line", "color": "#3ab0a8", "strokeWidth": 2.4}, "encoding": {"x": {"field": "x", "type": "quantitative", "scale": {"domain": [0.95, 1.05], "range": [110.5, 211.1], "zero": false, "nice": false}, "axis": null}, "y": {"field": "v", "type": "quantitative", "scale": {"domain": [46.89, 47.75], "range": [140.6, 74], "zero": false, "nice": false}, "axis": null}}},
    {"transform": [{"filter": "datum.series == 'Baseline'"}], "mark": {"type": "line", "color": "#3ab0a8", "strokeWidth": 2.4, "strokeDash": [6, 3]}, "encoding": {"x": {"field": "x", "type": "quantitative", "scale": {"domain": [0.95, 1.05], "range": [110.5, 211.1], "zero": false, "nice": false}, "axis": null}, "y": {"field": "v", "type": "quantitative", "scale": {"domain": [46.89, 47.75], "range": [140.6, 74], "zero": false, "nice": false}, "axis": null}}},
    {"transform": [{"filter": "datum.x == 1 && datum.series == 'CLI'"}], "mark": {"type": "point", "shape": "circle", "filled": true, "size": 40, "color": "#3ab0a8", "opacity": 1}, "encoding": {"x": {"field": "x", "type": "quantitative", "scale": {"domain": [0.95, 1.05], "range": [110.5, 211.1], "zero": false, "nice": false}, "axis": null}, "y": {"field": "v", "type": "quantitative", "scale": {"domain": [46.89, 47.75], "range": [140.6, 74], "zero": false, "nice": false}, "axis": null}}},
    {"transform": [{"filter": "datum.x == 1 && datum.series == 'Baseline'"}], "mark": {"type": "point", "shape": "square", "filled": true, "size": 32, "color": "#3ab0a8", "opacity": 1}, "encoding": {"x": {"field": "x", "type": "quantitative", "scale": {"domain": [0.95, 1.05], "range": [110.5, 211.1], "zero": false, "nice": false}, "axis": null}, "y": {"field": "v", "type": "quantitative", "scale": {"domain": [46.89, 47.75], "range": [140.6, 74], "zero": false, "nice": false}, "axis": null}}},
    {"transform": [{"filter": "datum.x == 1 && datum.series == 'Baseline'"}], "mark": {"type": "text", "align": "left", "baseline": "middle", "dx": 3, "dy": -4, "font": "Liberation Serif", "fontWeight": "bold", "fontSize": 10, "color": "#3ab0a8"}, "encoding": {"x": {"field": "x", "type": "quantitative", "scale": {"domain": [0.95, 1.05], "range": [110.5, 211.1], "zero": false, "nice": false}, "axis": null}, "y": {"field": "v", "type": "quantitative", "scale": {"domain": [46.89, 47.75], "range": [140.6, 74], "zero": false, "nice": false}, "axis": null}, "text": {"field": "v", "type": "quantitative", "format": ".2f"}}},
    {"transform": [{"filter": "datum.x == 1 && datum.series == 'CLI'"}], "mark": {"type": "text", "align": "left", "baseline": "middle", "dx": 3, "dy": 3, "font": "Liberation Serif", "fontWeight": "bold", "fontSize": 10, "color": "#3ab0a8"}, "encoding": {"x": {"field": "x", "type": "quantitative", "scale": {"domain": [0.95, 1.05], "range": [110.5, 211.1], "zero": false, "nice": false}, "axis": null}, "y": {"field": "v", "type": "quantitative", "scale": {"domain": [46.89, 47.75], "range": [140.6, 74], "zero": false, "nice": false}, "axis": null}, "text": {"field": "v", "type": "quantitative", "format": ".2f"}}}
   ]
  }
 ]
},
{
 "title": {"text": "MM-Star", "color": "#2ca02c"},
 "width": 221, "height": 148,
 "resolve": {"scale": {"x": "independent", "y": "independent"}},
 "layer": [
  {
   "data": {"values": [
    {"series": "CLI", "x": 0, "v": 20.4}, {"series": "CLI", "x": 0.2, "v": 36.4}, {"series": "CLI", "x": 0.5, "v": 34.0}, {"series": "CLI", "x": 0.8, "v": 36.85}, {"series": "CLI", "x": 1, "v": 39.30},
    {"series": "Baseline", "x": 0, "v": 20.4}, {"series": "Baseline", "x": 0.2, "v": 34.5}, {"series": "Baseline", "x": 0.5, "v": 34.9}, {"series": "Baseline", "x": 0.8, "v": 35.65}, {"series": "Baseline", "x": 1, "v": 38.59}
   ]},
   "layer": [
    {"transform": [{"filter": "datum.series == 'CLI'"}], "mark": {"type": "line", "color": "#2ca02c", "strokeWidth": 2.4}, "encoding": {"x": {"field": "x", "type": "quantitative", "title": null, "scale": {"domain": [-0.05, 1.05], "zero": false, "nice": false}, "axis": {"values": [0, 0.2, 0.5, 0.8, 1], "format": ".1f", "labelFlush": false}}, "y": {"field": "v", "type": "quantitative", "title": null, "scale": {"domain": [19.45, 40.25], "zero": false, "nice": false}, "axis": {"values": [20, 25, 30, 35, 40]}}}},
    {"transform": [{"filter": "datum.series == 'Baseline'"}], "mark": {"type": "line", "color": "#2ca02c", "strokeWidth": 2.4, "strokeDash": [6, 3]}, "encoding": {"x": {"field": "x", "type": "quantitative", "title": null, "scale": {"domain": [-0.05, 1.05], "zero": false, "nice": false}, "axis": {"values": [0, 0.2, 0.5, 0.8, 1], "format": ".1f", "labelFlush": false}}, "y": {"field": "v", "type": "quantitative", "title": null, "scale": {"domain": [19.45, 40.25], "zero": false, "nice": false}, "axis": {"values": [20, 25, 30, 35, 40]}}}},
    {"transform": [{"filter": "datum.series == 'CLI'"}], "mark": {"type": "point", "shape": "circle", "filled": true, "size": 34, "color": "#2ca02c", "opacity": 1}, "encoding": {"x": {"field": "x", "type": "quantitative", "title": null, "scale": {"domain": [-0.05, 1.05], "zero": false, "nice": false}, "axis": {"values": [0, 0.2, 0.5, 0.8, 1], "format": ".1f", "labelFlush": false}}, "y": {"field": "v", "type": "quantitative", "title": null, "scale": {"domain": [19.45, 40.25], "zero": false, "nice": false}, "axis": {"values": [20, 25, 30, 35, 40]}}}},
    {"transform": [{"filter": "datum.series == 'Baseline'"}], "mark": {"type": "point", "shape": "square", "filled": true, "size": 28, "color": "#2ca02c", "opacity": 1}, "encoding": {"x": {"field": "x", "type": "quantitative", "title": null, "scale": {"domain": [-0.05, 1.05], "zero": false, "nice": false}, "axis": {"values": [0, 0.2, 0.5, 0.8, 1], "format": ".1f", "labelFlush": false}}, "y": {"field": "v", "type": "quantitative", "title": null, "scale": {"domain": [19.45, 40.25], "zero": false, "nice": false}, "axis": {"values": [20, 25, 30, 35, 40]}}}},
    {"mark": {"type": "point", "filled": false, "opacity": 0, "color": "#2ca02c"}, "encoding": {"x": {"field": "x", "type": "quantitative", "title": null, "scale": {"domain": [-0.05, 1.05], "zero": false, "nice": false}, "axis": {"values": [0, 0.2, 0.5, 0.8, 1], "format": ".1f", "labelFlush": false}}, "y": {"field": "v", "type": "quantitative", "title": null, "scale": {"domain": [19.45, 40.25], "zero": false, "nice": false}, "axis": {"values": [20, 25, 30, 35, 40]}}, "shape": {"field": "series", "type": "nominal", "scale": {"domain": ["CLI", "Baseline"], "range": ["M-1.8,0H-1.15M-0.7,0H0.7M1.15,0H1.8M-0.45,0A0.45,0.45,0,1,1,0.45,0A0.45,0.45,0,1,1,-0.45,0Z", "M-1.8,0H-1.15M-0.7,0H0.7M1.15,0H1.8M-0.4,-0.4H0.4V0.4H-0.4Z"]}, "legend": {"symbolStrokeColor": "#2ca02c", "symbolFillColor": "#2ca02c", "encode": {"symbols": {"fill": {"value": "#2ca02c"}, "stroke": {"value": "#2ca02c"}, "strokeWidth": {"value": 1.8}, "opacity": {"value": 1}}}}}}},
    {"data": {"values": [{}]}, "mark": {"type": "rect", "filled": false, "color": "#8c8c8c", "strokeWidth": 0.9}, "encoding": {"x": {"datum": 0.95, "type": "quantitative", "title": null, "scale": {"domain": [-0.05, 1.05], "zero": false, "nice": false}, "axis": {"values": [0, 0.2, 0.5, 0.8, 1], "format": ".1f", "labelFlush": false}}, "x2": {"datum": 1.05}, "y": {"datum": 38.24, "type": "quantitative", "title": null, "scale": {"domain": [19.45, 40.25], "zero": false, "nice": false}, "axis": {"values": [20, 25, 30, 35, 40]}}, "y2": {"datum": 39.66}}},
    {"data": {"values": [{}]}, "mark": {"type": "rule", "color": "#8c8c8c", "strokeWidth": 0.9}, "encoding": {"x": {"datum": 0.95, "type": "quantitative", "title": null, "scale": {"domain": [-0.05, 1.05], "zero": false, "nice": false}, "axis": {"values": [0, 0.2, 0.5, 0.8, 1], "format": ".1f", "labelFlush": false}}, "x2": {"datum": 0.5}, "y": {"datum": 38.24, "type": "quantitative", "title": null, "scale": {"domain": [19.45, 40.25], "zero": false, "nice": false}, "axis": {"values": [20, 25, 30, 35, 40]}}, "y2": {"datum": 29.85}}},
    {"data": {"values": [{}]}, "mark": {"type": "rule", "color": "#8c8c8c", "strokeWidth": 0.9}, "encoding": {"x": {"datum": 1.05, "type": "quantitative", "title": null, "scale": {"domain": [-0.05, 1.05], "zero": false, "nice": false}, "axis": {"values": [0, 0.2, 0.5, 0.8, 1], "format": ".1f", "labelFlush": false}}, "x2": {"datum": 1.0}, "y": {"datum": 38.24, "type": "quantitative", "title": null, "scale": {"domain": [19.45, 40.25], "zero": false, "nice": false}, "axis": {"values": [20, 25, 30, 35, 40]}}, "y2": {"datum": 20.49}}}
   ]
  },
  {
   "data": {"values": [
    {"series": "CLI", "x": 0.95, "v": 38.69}, {"series": "CLI", "x": 1, "v": 39.30},
    {"series": "Baseline", "x": 0.976, "v": 38.24}, {"series": "Baseline", "x": 1, "v": 38.59}
   ]},
   "layer": [
    {"data": {"values": [{}]}, "mark": {"type": "rect", "fill": "#ffffff", "stroke": "#444444", "strokeWidth": 1.3}, "encoding": {"x": {"datum": 0.95, "type": "quantitative", "scale": {"domain": [0.95, 1.05], "range": [110.5, 211.1], "zero": false, "nice": false}, "axis": null}, "x2": {"datum": 1.05}, "y": {"datum": 38.24, "type": "quantitative", "scale": {"domain": [38.24, 39.66], "range": [140.6, 74], "zero": false, "nice": false}, "axis": null}, "y2": {"datum": 39.66}}},
    {"data": {"values": [{}]}, "mark": {"type": "rule", "color": "#d6d6d6", "strokeWidth": 0.7, "strokeDash": [3, 2]}, "encoding": {"x": {"datum": 0.95, "type": "quantitative", "scale": {"domain": [0.95, 1.05], "range": [110.5, 211.1], "zero": false, "nice": false}, "axis": null}, "x2": {"datum": 1.05}, "y": {"datum": 38.5, "type": "quantitative", "scale": {"domain": [38.24, 39.66], "range": [140.6, 74], "zero": false, "nice": false}, "axis": null}}},
    {"data": {"values": [{}]}, "mark": {"type": "rule", "color": "#d6d6d6", "strokeWidth": 0.7, "strokeDash": [3, 2]}, "encoding": {"x": {"datum": 0.95, "type": "quantitative", "scale": {"domain": [0.95, 1.05], "range": [110.5, 211.1], "zero": false, "nice": false}, "axis": null}, "x2": {"datum": 1.05}, "y": {"datum": 39.0, "type": "quantitative", "scale": {"domain": [38.24, 39.66], "range": [140.6, 74], "zero": false, "nice": false}, "axis": null}}},
    {"data": {"values": [{}]}, "mark": {"type": "rule", "color": "#d6d6d6", "strokeWidth": 0.7, "strokeDash": [3, 2]}, "encoding": {"x": {"datum": 0.95, "type": "quantitative", "scale": {"domain": [0.95, 1.05], "range": [110.5, 211.1], "zero": false, "nice": false}, "axis": null}, "x2": {"datum": 1.05}, "y": {"datum": 39.5, "type": "quantitative", "scale": {"domain": [38.24, 39.66], "range": [140.6, 74], "zero": false, "nice": false}, "axis": null}}},
    {"transform": [{"filter": "datum.series == 'CLI'"}], "mark": {"type": "line", "color": "#2ca02c", "strokeWidth": 2.4}, "encoding": {"x": {"field": "x", "type": "quantitative", "scale": {"domain": [0.95, 1.05], "range": [110.5, 211.1], "zero": false, "nice": false}, "axis": null}, "y": {"field": "v", "type": "quantitative", "scale": {"domain": [38.24, 39.66], "range": [140.6, 74], "zero": false, "nice": false}, "axis": null}}},
    {"transform": [{"filter": "datum.series == 'Baseline'"}], "mark": {"type": "line", "color": "#2ca02c", "strokeWidth": 2.4, "strokeDash": [6, 3]}, "encoding": {"x": {"field": "x", "type": "quantitative", "scale": {"domain": [0.95, 1.05], "range": [110.5, 211.1], "zero": false, "nice": false}, "axis": null}, "y": {"field": "v", "type": "quantitative", "scale": {"domain": [38.24, 39.66], "range": [140.6, 74], "zero": false, "nice": false}, "axis": null}}},
    {"transform": [{"filter": "datum.x == 1 && datum.series == 'CLI'"}], "mark": {"type": "point", "shape": "circle", "filled": true, "size": 40, "color": "#2ca02c", "opacity": 1}, "encoding": {"x": {"field": "x", "type": "quantitative", "scale": {"domain": [0.95, 1.05], "range": [110.5, 211.1], "zero": false, "nice": false}, "axis": null}, "y": {"field": "v", "type": "quantitative", "scale": {"domain": [38.24, 39.66], "range": [140.6, 74], "zero": false, "nice": false}, "axis": null}}},
    {"transform": [{"filter": "datum.x == 1 && datum.series == 'Baseline'"}], "mark": {"type": "point", "shape": "square", "filled": true, "size": 32, "color": "#2ca02c", "opacity": 1}, "encoding": {"x": {"field": "x", "type": "quantitative", "scale": {"domain": [0.95, 1.05], "range": [110.5, 211.1], "zero": false, "nice": false}, "axis": null}, "y": {"field": "v", "type": "quantitative", "scale": {"domain": [38.24, 39.66], "range": [140.6, 74], "zero": false, "nice": false}, "axis": null}}},
    {"transform": [{"filter": "datum.x == 1 && datum.series == 'CLI'"}], "mark": {"type": "text", "align": "left", "baseline": "middle", "dx": 3, "dy": -4, "font": "Liberation Serif", "fontWeight": "bold", "fontSize": 10, "color": "#2ca02c"}, "encoding": {"x": {"field": "x", "type": "quantitative", "scale": {"domain": [0.95, 1.05], "range": [110.5, 211.1], "zero": false, "nice": false}, "axis": null}, "y": {"field": "v", "type": "quantitative", "scale": {"domain": [38.24, 39.66], "range": [140.6, 74], "zero": false, "nice": false}, "axis": null}, "text": {"field": "v", "type": "quantitative", "format": ".2f"}}},
    {"transform": [{"filter": "datum.x == 1 && datum.series == 'Baseline'"}], "mark": {"type": "text", "align": "left", "baseline": "middle", "dx": 3, "dy": 3, "font": "Liberation Serif", "fontWeight": "bold", "fontSize": 10, "color": "#2ca02c"}, "encoding": {"x": {"field": "x", "type": "quantitative", "scale": {"domain": [0.95, 1.05], "range": [110.5, 211.1], "zero": false, "nice": false}, "axis": null}, "y": {"field": "v", "type": "quantitative", "scale": {"domain": [38.24, 39.66], "range": [140.6, 74], "zero": false, "nice": false}, "axis": null}, "text": {"field": "v", "type": "quantitative", "format": ".2f"}}}
   ]
  }
 ]
},
{
 "title": {"text": "RealWorldQA", "color": "#e8565a"},
 "width": 221, "height": 148,
 "resolve": {"scale": {"x": "independent", "y": "independent"}},
 "layer": [
  {
   "data": {"values": [
    {"series": "CLI", "x": 0, "v": 14.85}, {"series": "CLI", "x": 0.2, "v": 50.0}, {"series": "CLI", "x": 0.5, "v": 52.9}, {"series": "CLI", "x": 0.8, "v": 53.4}, {"series": "CLI", "x": 1, "v": 56.73},
    {"series": "Baseline", "x": 0, "v": 14.85}, {"series": "Baseline", "x": 0.2, "v": 50.6}, {"series": "Baseline", "x": 0.5, "v": 53.0}, {"series": "Baseline", "x": 0.8, "v": 54.45}, {"series": "Baseline", "x": 1, "v": 56.08}
   ]},
   "layer": [
    {"transform": [{"filter": "datum.series == 'CLI'"}], "mark": {"type": "line", "color": "#e8565a", "strokeWidth": 2.4}, "encoding": {"x": {"field": "x", "type": "quantitative", "title": null, "scale": {"domain": [-0.05, 1.05], "zero": false, "nice": false}, "axis": {"values": [0, 0.2, 0.5, 0.8, 1], "format": ".1f", "labelFlush": false}}, "y": {"field": "v", "type": "quantitative", "title": null, "scale": {"domain": [12.75, 58.8], "zero": false, "nice": false}, "axis": {"values": [20, 30, 40, 50]}}}},
    {"transform": [{"filter": "datum.series == 'Baseline'"}], "mark": {"type": "line", "color": "#e8565a", "strokeWidth": 2.4, "strokeDash": [6, 3]}, "encoding": {"x": {"field": "x", "type": "quantitative", "title": null, "scale": {"domain": [-0.05, 1.05], "zero": false, "nice": false}, "axis": {"values": [0, 0.2, 0.5, 0.8, 1], "format": ".1f", "labelFlush": false}}, "y": {"field": "v", "type": "quantitative", "title": null, "scale": {"domain": [12.75, 58.8], "zero": false, "nice": false}, "axis": {"values": [20, 30, 40, 50]}}}},
    {"transform": [{"filter": "datum.series == 'CLI'"}], "mark": {"type": "point", "shape": "circle", "filled": true, "size": 34, "color": "#e8565a", "opacity": 1}, "encoding": {"x": {"field": "x", "type": "quantitative", "title": null, "scale": {"domain": [-0.05, 1.05], "zero": false, "nice": false}, "axis": {"values": [0, 0.2, 0.5, 0.8, 1], "format": ".1f", "labelFlush": false}}, "y": {"field": "v", "type": "quantitative", "title": null, "scale": {"domain": [12.75, 58.8], "zero": false, "nice": false}, "axis": {"values": [20, 30, 40, 50]}}}},
    {"transform": [{"filter": "datum.series == 'Baseline'"}], "mark": {"type": "point", "shape": "square", "filled": true, "size": 28, "color": "#e8565a", "opacity": 1}, "encoding": {"x": {"field": "x", "type": "quantitative", "title": null, "scale": {"domain": [-0.05, 1.05], "zero": false, "nice": false}, "axis": {"values": [0, 0.2, 0.5, 0.8, 1], "format": ".1f", "labelFlush": false}}, "y": {"field": "v", "type": "quantitative", "title": null, "scale": {"domain": [12.75, 58.8], "zero": false, "nice": false}, "axis": {"values": [20, 30, 40, 50]}}}},
    {"mark": {"type": "point", "filled": false, "opacity": 0, "color": "#e8565a"}, "encoding": {"x": {"field": "x", "type": "quantitative", "title": null, "scale": {"domain": [-0.05, 1.05], "zero": false, "nice": false}, "axis": {"values": [0, 0.2, 0.5, 0.8, 1], "format": ".1f", "labelFlush": false}}, "y": {"field": "v", "type": "quantitative", "title": null, "scale": {"domain": [12.75, 58.8], "zero": false, "nice": false}, "axis": {"values": [20, 30, 40, 50]}}, "shape": {"field": "series", "type": "nominal", "scale": {"domain": ["CLI", "Baseline"], "range": ["M-1.8,0H-1.15M-0.7,0H0.7M1.15,0H1.8M-0.45,0A0.45,0.45,0,1,1,0.45,0A0.45,0.45,0,1,1,-0.45,0Z", "M-1.8,0H-1.15M-0.7,0H0.7M1.15,0H1.8M-0.4,-0.4H0.4V0.4H-0.4Z"]}, "legend": {"symbolStrokeColor": "#e8565a", "symbolFillColor": "#e8565a", "encode": {"symbols": {"fill": {"value": "#e8565a"}, "stroke": {"value": "#e8565a"}, "strokeWidth": {"value": 1.8}, "opacity": {"value": 1}}}}}}},
    {"data": {"values": [{}]}, "mark": {"type": "rect", "filled": false, "color": "#8c8c8c", "strokeWidth": 0.9}, "encoding": {"x": {"datum": 0.95, "type": "quantitative", "title": null, "scale": {"domain": [-0.05, 1.05], "zero": false, "nice": false}, "axis": {"values": [0, 0.2, 0.5, 0.8, 1], "format": ".1f", "labelFlush": false}}, "x2": {"datum": 1.05}, "y": {"datum": 55.76, "type": "quantitative", "title": null, "scale": {"domain": [12.75, 58.8], "zero": false, "nice": false}, "axis": {"values": [20, 30, 40, 50]}}, "y2": {"datum": 57.06}}},
    {"data": {"values": [{}]}, "mark": {"type": "rule", "color": "#8c8c8c", "strokeWidth": 0.9}, "encoding": {"x": {"datum": 0.95, "type": "quantitative", "title": null, "scale": {"domain": [-0.05, 1.05], "zero": false, "nice": false}, "axis": {"values": [0, 0.2, 0.5, 0.8, 1], "format": ".1f", "labelFlush": false}}, "x2": {"datum": 0.5}, "y": {"datum": 55.76, "type": "quantitative", "title": null, "scale": {"domain": [12.75, 58.8], "zero": false, "nice": false}, "axis": {"values": [20, 30, 40, 50]}}, "y2": {"datum": 35.78}}},
    {"data": {"values": [{}]}, "mark": {"type": "rule", "color": "#8c8c8c", "strokeWidth": 0.9}, "encoding": {"x": {"datum": 1.05, "type": "quantitative", "title": null, "scale": {"domain": [-0.05, 1.05], "zero": false, "nice": false}, "axis": {"values": [0, 0.2, 0.5, 0.8, 1], "format": ".1f", "labelFlush": false}}, "x2": {"datum": 1.0}, "y": {"datum": 55.76, "type": "quantitative", "title": null, "scale": {"domain": [12.75, 58.8], "zero": false, "nice": false}, "axis": {"values": [20, 30, 40, 50]}}, "y2": {"datum": 15.05}}}
   ]
  },
  {
   "data": {"values": [
    {"series": "CLI", "x": 0.95, "v": 55.9}, {"series": "CLI", "x": 1, "v": 56.73},
    {"series": "Baseline", "x": 0.961, "v": 55.76}, {"series": "Baseline", "x": 1, "v": 56.08}
   ]},
   "layer": [
    {"data": {"values": [{}]}, "mark": {"type": "rect", "fill": "#ffffff", "stroke": "#444444", "strokeWidth": 1.3}, "encoding": {"x": {"datum": 0.95, "type": "quantitative", "scale": {"domain": [0.95, 1.05], "range": [110.5, 211.1], "zero": false, "nice": false}, "axis": null}, "x2": {"datum": 1.05}, "y": {"datum": 55.76, "type": "quantitative", "scale": {"domain": [55.76, 57.06], "range": [140.6, 74], "zero": false, "nice": false}, "axis": null}, "y2": {"datum": 57.06}}},
    {"data": {"values": [{}]}, "mark": {"type": "rule", "color": "#d6d6d6", "strokeWidth": 0.7, "strokeDash": [3, 2]}, "encoding": {"x": {"datum": 0.95, "type": "quantitative", "scale": {"domain": [0.95, 1.05], "range": [110.5, 211.1], "zero": false, "nice": false}, "axis": null}, "x2": {"datum": 1.05}, "y": {"datum": 56.0, "type": "quantitative", "scale": {"domain": [55.76, 57.06], "range": [140.6, 74], "zero": false, "nice": false}, "axis": null}}},
    {"data": {"values": [{}]}, "mark": {"type": "rule", "color": "#d6d6d6", "strokeWidth": 0.7, "strokeDash": [3, 2]}, "encoding": {"x": {"datum": 0.95, "type": "quantitative", "scale": {"domain": [0.95, 1.05], "range": [110.5, 211.1], "zero": false, "nice": false}, "axis": null}, "x2": {"datum": 1.05}, "y": {"datum": 56.5, "type": "quantitative", "scale": {"domain": [55.76, 57.06], "range": [140.6, 74], "zero": false, "nice": false}, "axis": null}}},
    {"data": {"values": [{}]}, "mark": {"type": "rule", "color": "#d6d6d6", "strokeWidth": 0.7, "strokeDash": [3, 2]}, "encoding": {"x": {"datum": 0.95, "type": "quantitative", "scale": {"domain": [0.95, 1.05], "range": [110.5, 211.1], "zero": false, "nice": false}, "axis": null}, "x2": {"datum": 1.05}, "y": {"datum": 57.0, "type": "quantitative", "scale": {"domain": [55.76, 57.06], "range": [140.6, 74], "zero": false, "nice": false}, "axis": null}}},
    {"transform": [{"filter": "datum.series == 'CLI'"}], "mark": {"type": "line", "color": "#e8565a", "strokeWidth": 2.4}, "encoding": {"x": {"field": "x", "type": "quantitative", "scale": {"domain": [0.95, 1.05], "range": [110.5, 211.1], "zero": false, "nice": false}, "axis": null}, "y": {"field": "v", "type": "quantitative", "scale": {"domain": [55.76, 57.06], "range": [140.6, 74], "zero": false, "nice": false}, "axis": null}}},
    {"transform": [{"filter": "datum.series == 'Baseline'"}], "mark": {"type": "line", "color": "#e8565a", "strokeWidth": 2.4, "strokeDash": [6, 3]}, "encoding": {"x": {"field": "x", "type": "quantitative", "scale": {"domain": [0.95, 1.05], "range": [110.5, 211.1], "zero": false, "nice": false}, "axis": null}, "y": {"field": "v", "type": "quantitative", "scale": {"domain": [55.76, 57.06], "range": [140.6, 74], "zero": false, "nice": false}, "axis": null}}},
    {"transform": [{"filter": "datum.x == 1 && datum.series == 'CLI'"}], "mark": {"type": "point", "shape": "circle", "filled": true, "size": 40, "color": "#e8565a", "opacity": 1}, "encoding": {"x": {"field": "x", "type": "quantitative", "scale": {"domain": [0.95, 1.05], "range": [110.5, 211.1], "zero": false, "nice": false}, "axis": null}, "y": {"field": "v", "type": "quantitative", "scale": {"domain": [55.76, 57.06], "range": [140.6, 74], "zero": false, "nice": false}, "axis": null}}},
    {"transform": [{"filter": "datum.x == 1 && datum.series == 'Baseline'"}], "mark": {"type": "point", "shape": "square", "filled": true, "size": 32, "color": "#e8565a", "opacity": 1}, "encoding": {"x": {"field": "x", "type": "quantitative", "scale": {"domain": [0.95, 1.05], "range": [110.5, 211.1], "zero": false, "nice": false}, "axis": null}, "y": {"field": "v", "type": "quantitative", "scale": {"domain": [55.76, 57.06], "range": [140.6, 74], "zero": false, "nice": false}, "axis": null}}},
    {"transform": [{"filter": "datum.x == 1 && datum.series == 'CLI'"}], "mark": {"type": "text", "align": "left", "baseline": "middle", "dx": 3, "dy": -4, "font": "Liberation Serif", "fontWeight": "bold", "fontSize": 10, "color": "#e8565a"}, "encoding": {"x": {"field": "x", "type": "quantitative", "scale": {"domain": [0.95, 1.05], "range": [110.5, 211.1], "zero": false, "nice": false}, "axis": null}, "y": {"field": "v", "type": "quantitative", "scale": {"domain": [55.76, 57.06], "range": [140.6, 74], "zero": false, "nice": false}, "axis": null}, "text": {"field": "v", "type": "quantitative", "format": ".2f"}}},
    {"transform": [{"filter": "datum.x == 1 && datum.series == 'Baseline'"}], "mark": {"type": "text", "align": "left", "baseline": "middle", "dx": 3, "dy": 3, "font": "Liberation Serif", "fontWeight": "bold", "fontSize": 10, "color": "#e8565a"}, "encoding": {"x": {"field": "x", "type": "quantitative", "scale": {"domain": [0.95, 1.05], "range": [110.5, 211.1], "zero": false, "nice": false}, "axis": null}, "y": {"field": "v", "type": "quantitative", "scale": {"domain": [55.76, 57.06], "range": [140.6, 74], "zero": false, "nice": false}, "axis": null}, "text": {"field": "v", "type": "quantitative", "format": ".2f"}}}
   ]
  }
 ]
},
{
 "title": {"text": "MathVerse", "color": "#8c564b"},
 "width": 221, "height": 148,
 "resolve": {"scale": {"x": "independent", "y": "independent"}},
 "layer": [
  {
   "data": {"values": [
    {"series": "CLI", "x": 0, "v": 9.2}, {"series": "CLI", "x": 0.2, "v": 16.83}, {"series": "CLI", "x": 0.5, "v": 17.85}, {"series": "CLI", "x": 0.8, "v": 17.38}, {"series": "CLI", "x": 1, "v": 18.28},
    {"series": "Baseline", "x": 0, "v": 9.2}, {"series": "Baseline", "x": 0.2, "v": 16.9}, {"series": "Baseline", "x": 0.5, "v": 16.57}, {"series": "Baseline", "x": 0.8, "v": 16.9}, {"series": "Baseline", "x": 1, "v": 17.72}
   ]},
   "layer": [
    {"transform": [{"filter": "datum.series == 'CLI'"}], "mark": {"type": "line", "color": "#8c564b", "strokeWidth": 2.4}, "encoding": {"x": {"field": "x", "type": "quantitative", "title": null, "scale": {"domain": [-0.05, 1.05], "zero": false, "nice": false}, "axis": {"values": [0, 0.2, 0.5, 0.8, 1], "format": ".1f", "labelFlush": false}}, "y": {"field": "v", "type": "quantitative", "title": null, "scale": {"domain": [8.75, 18.73], "zero": false, "nice": false}, "axis": {"values": [10, 12, 14, 16, 18]}}}},
    {"transform": [{"filter": "datum.series == 'Baseline'"}], "mark": {"type": "line", "color": "#8c564b", "strokeWidth": 2.4, "strokeDash": [6, 3]}, "encoding": {"x": {"field": "x", "type": "quantitative", "title": null, "scale": {"domain": [-0.05, 1.05], "zero": false, "nice": false}, "axis": {"values": [0, 0.2, 0.5, 0.8, 1], "format": ".1f", "labelFlush": false}}, "y": {"field": "v", "type": "quantitative", "title": null, "scale": {"domain": [8.75, 18.73], "zero": false, "nice": false}, "axis": {"values": [10, 12, 14, 16, 18]}}}},
    {"transform": [{"filter": "datum.series == 'CLI'"}], "mark": {"type": "point", "shape": "circle", "filled": true, "size": 34, "color": "#8c564b", "opacity": 1}, "encoding": {"x": {"field": "x", "type": "quantitative", "title": null, "scale": {"domain": [-0.05, 1.05], "zero": false, "nice": false}, "axis": {"values": [0, 0.2, 0.5, 0.8, 1], "format": ".1f", "labelFlush": false}}, "y": {"field": "v", "type": "quantitative", "title": null, "scale": {"domain": [8.75, 18.73], "zero": false, "nice": false}, "axis": {"values": [10, 12, 14, 16, 18]}}}},
    {"transform": [{"filter": "datum.series == 'Baseline'"}], "mark": {"type": "point", "shape": "square", "filled": true, "size": 28, "color": "#8c564b", "opacity": 1}, "encoding": {"x": {"field": "x", "type": "quantitative", "title": null, "scale": {"domain": [-0.05, 1.05], "zero": false, "nice": false}, "axis": {"values": [0, 0.2, 0.5, 0.8, 1], "format": ".1f", "labelFlush": false}}, "y": {"field": "v", "type": "quantitative", "title": null, "scale": {"domain": [8.75, 18.73], "zero": false, "nice": false}, "axis": {"values": [10, 12, 14, 16, 18]}}}},
    {"mark": {"type": "point", "filled": false, "opacity": 0, "color": "#8c564b"}, "encoding": {"x": {"field": "x", "type": "quantitative", "title": null, "scale": {"domain": [-0.05, 1.05], "zero": false, "nice": false}, "axis": {"values": [0, 0.2, 0.5, 0.8, 1], "format": ".1f", "labelFlush": false}}, "y": {"field": "v", "type": "quantitative", "title": null, "scale": {"domain": [8.75, 18.73], "zero": false, "nice": false}, "axis": {"values": [10, 12, 14, 16, 18]}}, "shape": {"field": "series", "type": "nominal", "scale": {"domain": ["CLI", "Baseline"], "range": ["M-1.8,0H-1.15M-0.7,0H0.7M1.15,0H1.8M-0.45,0A0.45,0.45,0,1,1,0.45,0A0.45,0.45,0,1,1,-0.45,0Z", "M-1.8,0H-1.15M-0.7,0H0.7M1.15,0H1.8M-0.4,-0.4H0.4V0.4H-0.4Z"]}, "legend": {"symbolStrokeColor": "#8c564b", "symbolFillColor": "#8c564b", "encode": {"symbols": {"fill": {"value": "#8c564b"}, "stroke": {"value": "#8c564b"}, "strokeWidth": {"value": 1.8}, "opacity": {"value": 1}}}}}}},
    {"data": {"values": [{}]}, "mark": {"type": "rect", "filled": false, "color": "#8c8c8c", "strokeWidth": 0.9}, "encoding": {"x": {"datum": 0.95, "type": "quantitative", "title": null, "scale": {"domain": [-0.05, 1.05], "zero": false, "nice": false}, "axis": {"values": [0, 0.2, 0.5, 0.8, 1], "format": ".1f", "labelFlush": false}}, "x2": {"datum": 1.05}, "y": {"datum": 17.45, "type": "quantitative", "title": null, "scale": {"domain": [8.75, 18.73], "zero": false, "nice": false}, "axis": {"values": [10, 12, 14, 16, 18]}}, "y2": {"datum": 18.57}}},
    {"data": {"values": [{}]}, "mark": {"type": "rule", "color": "#8c8c8c", "strokeWidth": 0.9}, "encoding": {"x": {"datum": 0.95, "type": "quantitative", "title": null, "scale": {"domain": [-0.05, 1.05], "zero": false, "nice": false}, "axis": {"values": [0, 0.2, 0.5, 0.8, 1], "format": ".1f", "labelFlush": false}}, "x2": {"datum": 0.5}, "y": {"datum": 17.45, "type": "quantitative", "title": null, "scale": {"domain": [8.75, 18.73], "zero": false, "nice": false}, "axis": {"values": [10, 12, 14, 16, 18]}}, "y2": {"datum": 13.74}}},
    {"data": {"values": [{}]}, "mark": {"type": "rule", "color": "#8c8c8c", "strokeWidth": 0.9}, "encoding": {"x": {"datum": 1.05, "type": "quantitative", "title": null, "scale": {"domain": [-0.05, 1.05], "zero": false, "nice": false}, "axis": {"values": [0, 0.2, 0.5, 0.8, 1], "format": ".1f", "labelFlush": false}}, "x2": {"datum": 1.0}, "y": {"datum": 17.45, "type": "quantitative", "title": null, "scale": {"domain": [8.75, 18.73], "zero": false, "nice": false}, "axis": {"values": [10, 12, 14, 16, 18]}}, "y2": {"datum": 9.25}}}
   ]
  },
  {
   "data": {"values": [
    {"series": "CLI", "x": 0.95, "v": 18.055}, {"series": "CLI", "x": 1, "v": 18.28},
    {"series": "Baseline", "x": 0.95, "v": 17.515}, {"series": "Baseline", "x": 1, "v": 17.72}
   ]},
   "layer": [
    {"data": {"values": [{}]}, "mark": {"type": "rect", "fill": "#ffffff", "stroke": "#444444", "strokeWidth": 1.3}, "encoding": {"x": {"datum": 0.95, "type": "quantitative", "scale": {"domain": [0.95, 1.05], "range": [110.5, 211.1], "zero": false, "nice": false}, "axis": null}, "x2": {"datum": 1.05}, "y": {"datum": 17.45, "type": "quantitative", "scale": {"domain": [17.45, 18.57], "range": [140.6, 74], "zero": false, "nice": false}, "axis": null}, "y2": {"datum": 18.57}}},
    {"data": {"values": [{}]}, "mark": {"type": "rule", "color": "#d6d6d6", "strokeWidth": 0.7, "strokeDash": [3, 2]}, "encoding": {"x": {"datum": 0.95, "type": "quantitative", "scale": {"domain": [0.95, 1.05], "range": [110.5, 211.1], "zero": false, "nice": false}, "axis": null}, "x2": {"datum": 1.05}, "y": {"datum": 17.5, "type": "quantitative", "scale": {"domain": [17.45, 18.57], "range": [140.6, 74], "zero": false, "nice": false}, "axis": null}}},
    {"data": {"values": [{}]}, "mark": {"type": "rule", "color": "#d6d6d6", "strokeWidth": 0.7, "strokeDash": [3, 2]}, "encoding": {"x": {"datum": 0.95, "type": "quantitative", "scale": {"domain": [0.95, 1.05], "range": [110.5, 211.1], "zero": false, "nice": false}, "axis": null}, "x2": {"datum": 1.05}, "y": {"datum": 18.0, "type": "quantitative", "scale": {"domain": [17.45, 18.57], "range": [140.6, 74], "zero": false, "nice": false}, "axis": null}}},
    {"data": {"values": [{}]}, "mark": {"type": "rule", "color": "#d6d6d6", "strokeWidth": 0.7, "strokeDash": [3, 2]}, "encoding": {"x": {"datum": 0.95, "type": "quantitative", "scale": {"domain": [0.95, 1.05], "range": [110.5, 211.1], "zero": false, "nice": false}, "axis": null}, "x2": {"datum": 1.05}, "y": {"datum": 18.5, "type": "quantitative", "scale": {"domain": [17.45, 18.57], "range": [140.6, 74], "zero": false, "nice": false}, "axis": null}}},
    {"transform": [{"filter": "datum.series == 'CLI'"}], "mark": {"type": "line", "color": "#8c564b", "strokeWidth": 2.4}, "encoding": {"x": {"field": "x", "type": "quantitative", "scale": {"domain": [0.95, 1.05], "range": [110.5, 211.1], "zero": false, "nice": false}, "axis": null}, "y": {"field": "v", "type": "quantitative", "scale": {"domain": [17.45, 18.57], "range": [140.6, 74], "zero": false, "nice": false}, "axis": null}}},
    {"transform": [{"filter": "datum.series == 'Baseline'"}], "mark": {"type": "line", "color": "#8c564b", "strokeWidth": 2.4, "strokeDash": [6, 3]}, "encoding": {"x": {"field": "x", "type": "quantitative", "scale": {"domain": [0.95, 1.05], "range": [110.5, 211.1], "zero": false, "nice": false}, "axis": null}, "y": {"field": "v", "type": "quantitative", "scale": {"domain": [17.45, 18.57], "range": [140.6, 74], "zero": false, "nice": false}, "axis": null}}},
    {"transform": [{"filter": "datum.x == 1 && datum.series == 'CLI'"}], "mark": {"type": "point", "shape": "circle", "filled": true, "size": 40, "color": "#8c564b", "opacity": 1}, "encoding": {"x": {"field": "x", "type": "quantitative", "scale": {"domain": [0.95, 1.05], "range": [110.5, 211.1], "zero": false, "nice": false}, "axis": null}, "y": {"field": "v", "type": "quantitative", "scale": {"domain": [17.45, 18.57], "range": [140.6, 74], "zero": false, "nice": false}, "axis": null}}},
    {"transform": [{"filter": "datum.x == 1 && datum.series == 'Baseline'"}], "mark": {"type": "point", "shape": "square", "filled": true, "size": 32, "color": "#8c564b", "opacity": 1}, "encoding": {"x": {"field": "x", "type": "quantitative", "scale": {"domain": [0.95, 1.05], "range": [110.5, 211.1], "zero": false, "nice": false}, "axis": null}, "y": {"field": "v", "type": "quantitative", "scale": {"domain": [17.45, 18.57], "range": [140.6, 74], "zero": false, "nice": false}, "axis": null}}},
    {"transform": [{"filter": "datum.x == 1 && datum.series == 'CLI'"}], "mark": {"type": "text", "align": "left", "baseline": "middle", "dx": 3, "dy": -4, "font": "Liberation Serif", "fontWeight": "bold", "fontSize": 10, "color": "#8c564b"}, "encoding": {"x": {"field": "x", "type": "quantitative", "scale": {"domain": [0.95, 1.05], "range": [110.5, 211.1], "zero": false, "nice": false}, "axis": null}, "y": {"field": "v", "type": "quantitative", "scale": {"domain": [17.45, 18.57], "range": [140.6, 74], "zero": false, "nice": false}, "axis": null}, "text": {"field": "v", "type": "quantitative", "format": ".2f"}}},
    {"transform": [{"filter": "datum.x == 1 && datum.series == 'Baseline'"}], "mark": {"type": "text", "align": "left", "baseline": "middle", "dx": 3, "dy": 3, "font": "Liberation Serif", "fontWeight": "bold", "fontSize": 10, "color": "#8c564b"}, "encoding": {"x": {"field": "x", "type": "quantitative", "scale": {"domain": [0.95, 1.05], "range": [110.5, 211.1], "zero": false, "nice": false}, "axis": null}, "y": {"field": "v", "type": "quantitative", "scale": {"domain": [17.45, 18.57], "range": [140.6, 74], "zero": false, "nice": false}, "axis": null}, "text": {"field": "v", "type": "quantitative", "format": ".2f"}}}
   ]
  }
 ]
},
{
 "title": {"text": "MME", "color": "#1f77b4"},
 "width": 221, "height": 148,
 "resolve": {"scale": {"x": "independent", "y": "independent"}},
 "layer": [
  {
   "data": {"values": [
    {"series": "CLI", "x": 0, "v": 0.4}, {"series": "CLI", "x": 0.2, "v": 54.0}, {"series": "CLI", "x": 0.5, "v": 56.6}, {"series": "CLI", "x": 0.8, "v": 57.7}, {"series": "CLI", "x": 1, "v": 63.31},
    {"series": "Baseline", "x": 0, "v": 0.4}, {"series": "Baseline", "x": 0.2, "v": 54.3}, {"series": "Baseline", "x": 0.5, "v": 54.6}, {"series": "Baseline", "x": 0.8, "v": 60.5}, {"series": "Baseline", "x": 1, "v": 63.24}
   ]},
   "layer": [
    {"transform": [{"filter": "datum.series == 'CLI'"}], "mark": {"type": "line", "color": "#1f77b4", "strokeWidth": 2.4}, "encoding": {"x": {"field": "x", "type": "quantitative", "title": null, "scale": {"domain": [-0.05, 1.05], "zero": false, "nice": false}, "axis": {"values": [0, 0.2, 0.5, 0.8, 1], "format": ".1f", "labelFlush": false}}, "y": {"field": "v", "type": "quantitative", "title": null, "scale": {"domain": [-2.75, 66.46], "zero": false, "nice": false}, "axis": {"values": [0, 10, 20, 30, 40, 50, 60]}}}},
    {"transform": [{"filter": "datum.series == 'Baseline'"}], "mark": {"type": "line", "color": "#1f77b4", "strokeWidth": 2.4, "strokeDash": [6, 3]}, "encoding": {"x": {"field": "x", "type": "quantitative", "title": null, "scale": {"domain": [-0.05, 1.05], "zero": false, "nice": false}, "axis": {"values": [0, 0.2, 0.5, 0.8, 1], "format": ".1f", "labelFlush": false}}, "y": {"field": "v", "type": "quantitative", "title": null, "scale": {"domain": [-2.75, 66.46], "zero": false, "nice": false}, "axis": {"values": [0, 10, 20, 30, 40, 50, 60]}}}},
    {"transform": [{"filter": "datum.series == 'CLI'"}], "mark": {"type": "point", "shape": "circle", "filled": true, "size": 34, "color": "#1f77b4", "opacity": 1}, "encoding": {"x": {"field": "x", "type": "quantitative", "title": null, "scale": {"domain": [-0.05, 1.05], "zero": false, "nice": false}, "axis": {"values": [0, 0.2, 0.5, 0.8, 1], "format": ".1f", "labelFlush": false}}, "y": {"field": "v", "type": "quantitative", "title": null, "scale": {"domain": [-2.75, 66.46], "zero": false, "nice": false}, "axis": {"values": [0, 10, 20, 30, 40, 50, 60]}}}},
    {"transform": [{"filter": "datum.series == 'Baseline'"}], "mark": {"type": "point", "shape": "square", "filled": true, "size": 28, "color": "#1f77b4", "opacity": 1}, "encoding": {"x": {"field": "x", "type": "quantitative", "title": null, "scale": {"domain": [-0.05, 1.05], "zero": false, "nice": false}, "axis": {"values": [0, 0.2, 0.5, 0.8, 1], "format": ".1f", "labelFlush": false}}, "y": {"field": "v", "type": "quantitative", "title": null, "scale": {"domain": [-2.75, 66.46], "zero": false, "nice": false}, "axis": {"values": [0, 10, 20, 30, 40, 50, 60]}}}},
    {"mark": {"type": "point", "filled": false, "opacity": 0, "color": "#1f77b4"}, "encoding": {"x": {"field": "x", "type": "quantitative", "title": null, "scale": {"domain": [-0.05, 1.05], "zero": false, "nice": false}, "axis": {"values": [0, 0.2, 0.5, 0.8, 1], "format": ".1f", "labelFlush": false}}, "y": {"field": "v", "type": "quantitative", "title": null, "scale": {"domain": [-2.75, 66.46], "zero": false, "nice": false}, "axis": {"values": [0, 10, 20, 30, 40, 50, 60]}}, "shape": {"field": "series", "type": "nominal", "scale": {"domain": ["CLI", "Baseline"], "range": ["M-1.8,0H-1.15M-0.7,0H0.7M1.15,0H1.8M-0.45,0A0.45,0.45,0,1,1,0.45,0A0.45,0.45,0,1,1,-0.45,0Z", "M-1.8,0H-1.15M-0.7,0H0.7M1.15,0H1.8M-0.4,-0.4H0.4V0.4H-0.4Z"]}, "legend": {"symbolStrokeColor": "#1f77b4", "symbolFillColor": "#1f77b4", "encode": {"symbols": {"fill": {"value": "#1f77b4"}, "stroke": {"value": "#1f77b4"}, "strokeWidth": {"value": 1.8}, "opacity": {"value": 1}}}}}}},
    {"data": {"values": [{}]}, "mark": {"type": "rect", "filled": false, "color": "#8c8c8c", "strokeWidth": 0.9}, "encoding": {"x": {"datum": 0.95, "type": "quantitative", "title": null, "scale": {"domain": [-0.05, 1.05], "zero": false, "nice": false}, "axis": {"values": [0, 0.2, 0.5, 0.8, 1], "format": ".1f", "labelFlush": false}}, "x2": {"datum": 1.05}, "y": {"datum": 62.95, "type": "quantitative", "title": null, "scale": {"domain": [-2.75, 66.46], "zero": false, "nice": false}, "axis": {"values": [0, 10, 20, 30, 40, 50, 60]}}, "y2": {"datum": 63.59}}},
    {"data": {"values": [{}]}, "mark": {"type": "rule", "color": "#8c8c8c", "strokeWidth": 0.9}, "encoding": {"x": {"datum": 0.95, "type": "quantitative", "title": null, "scale": {"domain": [-0.05, 1.05], "zero": false, "nice": false}, "axis": {"values": [0, 0.2, 0.5, 0.8, 1], "format": ".1f", "labelFlush": false}}, "x2": {"datum": 0.5}, "y": {"datum": 62.95, "type": "quantitative", "title": null, "scale": {"domain": [-2.75, 66.46], "zero": false, "nice": false}, "axis": {"values": [0, 10, 20, 30, 40, 50, 60]}}, "y2": {"datum": 31.85}}},
    {"data": {"values": [{}]}, "mark": {"type": "rule", "color": "#8c8c8c", "strokeWidth": 0.9}, "encoding": {"x": {"datum": 1.05, "type": "quantitative", "title": null, "scale": {"domain": [-0.05, 1.05], "zero": false, "nice": false}, "axis": {"values": [0, 0.2, 0.5, 0.8, 1], "format": ".1f", "labelFlush": false}}, "x2": {"datum": 1.0}, "y": {"datum": 62.95, "type": "quantitative", "title": null, "scale": {"domain": [-2.75, 66.46], "zero": false, "nice": false}, "axis": {"values": [0, 10, 20, 30, 40, 50, 60]}}, "y2": {"datum": 0.71}}}
   ]
  },
  {
   "data": {"values": [
    {"series": "CLI", "x": 0.987, "v": 62.95}, {"series": "CLI", "x": 1, "v": 63.31},
    {"series": "Baseline", "x": 0.979, "v": 62.95}, {"series": "Baseline", "x": 1, "v": 63.24}
   ]},
   "layer": [
    {"data": {"values": [{}]}, "mark": {"type": "rect", "fill": "#ffffff", "stroke": "#444444", "strokeWidth": 1.3}, "encoding": {"x": {"datum": 0.95, "type": "quantitative", "scale": {"domain": [0.95, 1.05], "range": [110.5, 211.1], "zero": false, "nice": false}, "axis": null}, "x2": {"datum": 1.05}, "y": {"datum": 62.95, "type": "quantitative", "scale": {"domain": [62.95, 63.59], "range": [140.6, 74], "zero": false, "nice": false}, "axis": null}, "y2": {"datum": 63.59}}},
    {"data": {"values": [{}]}, "mark": {"type": "rule", "color": "#d6d6d6", "strokeWidth": 0.7, "strokeDash": [3, 2]}, "encoding": {"x": {"datum": 0.95, "type": "quantitative", "scale": {"domain": [0.95, 1.05], "range": [110.5, 211.1], "zero": false, "nice": false}, "axis": null}, "x2": {"datum": 1.05}, "y": {"datum": 63.0, "type": "quantitative", "scale": {"domain": [62.95, 63.59], "range": [140.6, 74], "zero": false, "nice": false}, "axis": null}}},
    {"data": {"values": [{}]}, "mark": {"type": "rule", "color": "#d6d6d6", "strokeWidth": 0.7, "strokeDash": [3, 2]}, "encoding": {"x": {"datum": 0.95, "type": "quantitative", "scale": {"domain": [0.95, 1.05], "range": [110.5, 211.1], "zero": false, "nice": false}, "axis": null}, "x2": {"datum": 1.05}, "y": {"datum": 63.2, "type": "quantitative", "scale": {"domain": [62.95, 63.59], "range": [140.6, 74], "zero": false, "nice": false}, "axis": null}}},
    {"data": {"values": [{}]}, "mark": {"type": "rule", "color": "#d6d6d6", "strokeWidth": 0.7, "strokeDash": [3, 2]}, "encoding": {"x": {"datum": 0.95, "type": "quantitative", "scale": {"domain": [0.95, 1.05], "range": [110.5, 211.1], "zero": false, "nice": false}, "axis": null}, "x2": {"datum": 1.05}, "y": {"datum": 63.4, "type": "quantitative", "scale": {"domain": [62.95, 63.59], "range": [140.6, 74], "zero": false, "nice": false}, "axis": null}}},
    {"transform": [{"filter": "datum.series == 'CLI'"}], "mark": {"type": "line", "color": "#1f77b4", "strokeWidth": 2.4}, "encoding": {"x": {"field": "x", "type": "quantitative", "scale": {"domain": [0.95, 1.05], "range": [110.5, 211.1], "zero": false, "nice": false}, "axis": null}, "y": {"field": "v", "type": "quantitative", "scale": {"domain": [62.95, 63.59], "range": [140.6, 74], "zero": false, "nice": false}, "axis": null}}},
    {"transform": [{"filter": "datum.series == 'Baseline'"}], "mark": {"type": "line", "color": "#1f77b4", "strokeWidth": 2.4, "strokeDash": [6, 3]}, "encoding": {"x": {"field": "x", "type": "quantitative", "scale": {"domain": [0.95, 1.05], "range": [110.5, 211.1], "zero": false, "nice": false}, "axis": null}, "y": {"field": "v", "type": "quantitative", "scale": {"domain": [62.95, 63.59], "range": [140.6, 74], "zero": false, "nice": false}, "axis": null}}},
    {"transform": [{"filter": "datum.x == 1 && datum.series == 'CLI'"}], "mark": {"type": "point", "shape": "circle", "filled": true, "size": 40, "color": "#1f77b4", "opacity": 1}, "encoding": {"x": {"field": "x", "type": "quantitative", "scale": {"domain": [0.95, 1.05], "range": [110.5, 211.1], "zero": false, "nice": false}, "axis": null}, "y": {"field": "v", "type": "quantitative", "scale": {"domain": [62.95, 63.59], "range": [140.6, 74], "zero": false, "nice": false}, "axis": null}}},
    {"transform": [{"filter": "datum.x == 1 && datum.series == 'Baseline'"}], "mark": {"type": "point", "shape": "square", "filled": true, "size": 32, "color": "#1f77b4", "opacity": 1}, "encoding": {"x": {"field": "x", "type": "quantitative", "scale": {"domain": [0.95, 1.05], "range": [110.5, 211.1], "zero": false, "nice": false}, "axis": null}, "y": {"field": "v", "type": "quantitative", "scale": {"domain": [62.95, 63.59], "range": [140.6, 74], "zero": false, "nice": false}, "axis": null}}},
    {"transform": [{"filter": "datum.x == 1 && datum.series == 'CLI'"}], "mark": {"type": "text", "align": "left", "baseline": "middle", "dx": 3, "dy": -4, "font": "Liberation Serif", "fontWeight": "bold", "fontSize": 10, "color": "#1f77b4"}, "encoding": {"x": {"field": "x", "type": "quantitative", "scale": {"domain": [0.95, 1.05], "range": [110.5, 211.1], "zero": false, "nice": false}, "axis": null}, "y": {"field": "v", "type": "quantitative", "scale": {"domain": [62.95, 63.59], "range": [140.6, 74], "zero": false, "nice": false}, "axis": null}, "text": {"field": "v", "type": "quantitative", "format": ".2f"}}},
    {"transform": [{"filter": "datum.x == 1 && datum.series == 'Baseline'"}], "mark": {"type": "text", "align": "left", "baseline": "middle", "dx": 3, "dy": 3, "font": "Liberation Serif", "fontWeight": "bold", "fontSize": 10, "color": "#1f77b4"}, "encoding": {"x": {"field": "x", "type": "quantitative", "scale": {"domain": [0.95, 1.05], "range": [110.5, 211.1], "zero": false, "nice": false}, "axis": null}, "y": {"field": "v", "type": "quantitative", "scale": {"domain": [62.95, 63.59], "range": [140.6, 74], "zero": false, "nice": false}, "axis": null}, "text": {"field": "v", "type": "quantitative", "format": ".2f"}}}
   ]
  }
 ]
}
]
}
